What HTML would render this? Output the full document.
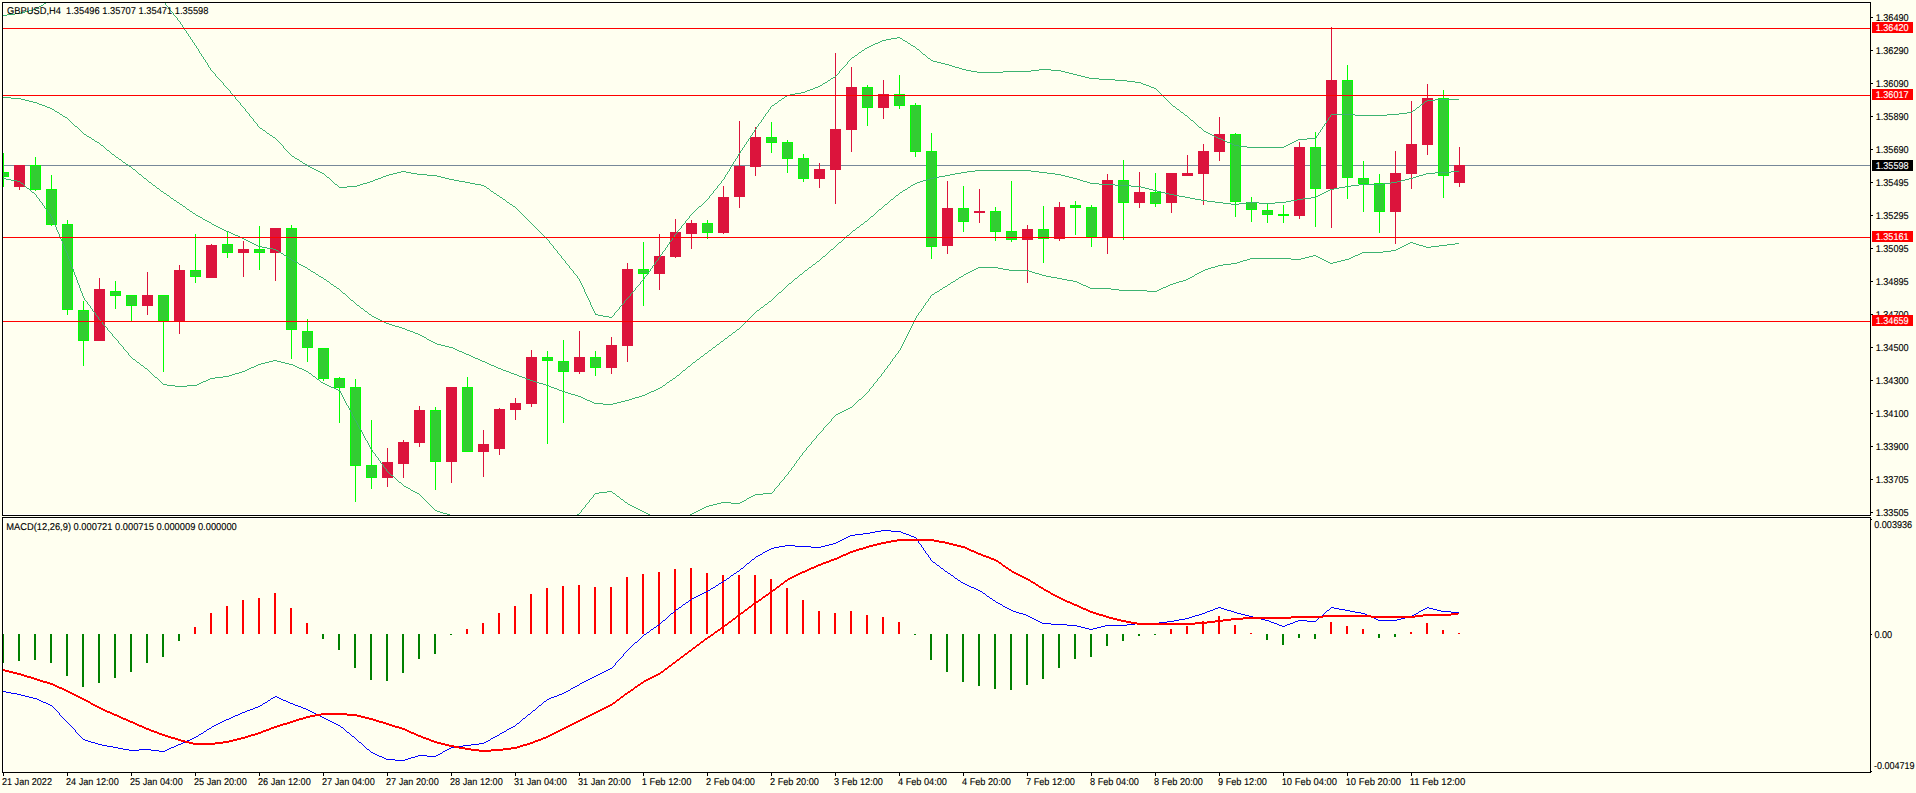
<!DOCTYPE html><html><head><meta charset="utf-8"><title>GBPUSD,H4</title><style>
html,body{margin:0;padding:0;background:#fffff0;width:1916px;height:793px;overflow:hidden}
svg{position:absolute;left:0;top:0;display:block}
text{font-family:"Liberation Sans",sans-serif;font-size:9.9px;stroke-width:0.12px;paint-order:stroke;text-rendering:geometricPrecision}
</style></head><body>
<svg width="1916" height="793" viewBox="0 0 1916 793">
<g shape-rendering="crispEdges">
<path fill="#fff" d="M3 3h1867v1h-1867zM3 3h1v511h-1zM3 514h1867v1h-1867zM3 518h1867v1h-1867zM3 518h1v254h-1z"/>
<rect x="3" y="165" width="1867" height="1" fill="#778899"/>
<path fill="#dc143c" d="M19 165h1v25h-1zM14 165h11v22h-11zM99 278h1v63h-1zM94 289h11v52h-11zM147 272h1v43h-1zM142 295h11v11h-11zM179 265h1v69h-1zM174 270h11v51h-11zM211 244h1v34h-1zM206 245h11v33h-11zM243 241h1v36h-1zM238 249h11v4h-11zM275 228h1v53h-1zM270 228h11v25h-11zM387 448h1v39h-1zM382 462h11v16h-11zM403 440h1v38h-1zM398 442h11v22h-11zM419 406h1v41h-1zM414 410h11v33h-11zM451 387h1v96h-1zM446 387h11v75h-11zM483 430h1v47h-1zM478 444h11v8h-11zM499 408h1v47h-1zM494 409h11v40h-11zM515 398h1v22h-1zM510 403h11v7h-11zM531 350h1v57h-1zM526 357h11v47h-11zM579 331h1v43h-1zM574 357h11v15h-11zM611 337h1v37h-1zM606 345h11v23h-11zM627 263h1v99h-1zM622 269h11v77h-11zM659 234h1v56h-1zM654 256h11v18h-11zM675 219h1v39h-1zM670 232h11v25h-11zM691 220h1v29h-1zM686 223h11v11h-11zM723 186h1v48h-1zM718 197h11v36h-11zM739 121h1v87h-1zM734 166h11v31h-11zM755 127h1v49h-1zM750 137h11v30h-11zM819 163h1v25h-1zM814 169h11v10h-11zM835 53h1v151h-1zM830 129h11v41h-11zM851 67h1v85h-1zM846 87h11v43h-11zM883 80h1v39h-1zM878 94h11v14h-11zM947 181h1v73h-1zM942 208h11v38h-11zM979 189h1v34h-1zM974 211h11v2h-11zM1027 225h1v58h-1zM1022 229h11v11h-11zM1059 202h1v39h-1zM1054 207h11v32h-11zM1107 174h1v80h-1zM1102 180h11v57h-11zM1139 172h1v36h-1zM1134 192h11v11h-11zM1171 173h1v40h-1zM1166 173h11v30h-11zM1187 155h1v21h-1zM1182 173h11v3h-11zM1203 144h1v61h-1zM1198 151h11v23h-11zM1219 117h1v44h-1zM1214 134h11v18h-11zM1299 142h1v77h-1zM1294 147h11v69h-11zM1331 27h1v201h-1zM1326 80h11v109h-11zM1395 151h1v93h-1zM1390 173h11v39h-11zM1411 101h1v88h-1zM1406 144h11v30h-11zM1427 84h1v71h-1zM1422 98h11v47h-11zM1459 147h1v40h-1zM1454 165h11v18h-11z"/>
<path fill="#00ff00" d="M3 153h1v34h-1zM3 172h6v5h-6zM35 157h1v34h-1zM30 165h11v25h-11zM51 175h1v51h-1zM46 189h11v36h-11zM67 220h1v95h-1zM62 224h11v86h-11zM83 301h1v65h-1zM78 310h11v31h-11zM115 281h1v28h-1zM110 291h11v5h-11zM131 295h1v26h-1zM126 295h11v11h-11zM163 295h1v77h-1zM158 295h11v26h-11zM195 234h1v49h-1zM190 270h11v7h-11zM227 232h1v26h-1zM222 244h11v9h-11zM259 226h1v44h-1zM254 249h11v4h-11zM291 225h1v134h-1zM286 228h11v102h-11zM307 319h1v43h-1zM302 331h11v17h-11zM323 348h1v33h-1zM318 348h11v31h-11zM339 377h1v46h-1zM334 378h11v10h-11zM355 379h1v123h-1zM350 387h11v79h-11zM371 420h1v69h-1zM366 465h11v13h-11zM435 407h1v83h-1zM430 410h11v52h-11zM467 377h1v75h-1zM462 387h11v65h-11zM547 351h1v93h-1zM542 357h11v4h-11zM563 340h1v83h-1zM558 361h11v11h-11zM595 351h1v25h-1zM590 357h11v11h-11zM643 242h1v64h-1zM638 269h11v5h-11zM707 220h1v19h-1zM702 223h11v10h-11zM771 122h1v31h-1zM766 137h11v6h-11zM787 140h1v33h-1zM782 142h11v17h-11zM803 154h1v28h-1zM798 158h11v21h-11zM867 85h1v41h-1zM862 87h11v21h-11zM899 75h1v34h-1zM894 94h11v12h-11zM915 103h1v54h-1zM910 105h11v47h-11zM931 133h1v126h-1zM926 151h11v96h-11zM963 186h1v46h-1zM958 208h11v14h-11zM995 207h1v34h-1zM990 211h11v21h-11zM1011 181h1v61h-1zM1006 231h11v9h-11zM1043 206h1v57h-1zM1038 229h11v10h-11zM1075 201h1v34h-1zM1070 205h11v3h-11zM1091 205h1v42h-1zM1086 207h11v30h-11zM1123 160h1v80h-1zM1118 180h11v23h-11zM1155 173h1v34h-1zM1150 192h11v12h-11zM1235 133h1v84h-1zM1230 134h11v68h-11zM1251 197h1v25h-1zM1246 202h11v8h-11zM1267 204h1v19h-1zM1262 210h11v5h-11zM1283 205h1v18h-1zM1278 214h11v2h-11zM1315 132h1v95h-1zM1310 147h11v42h-11zM1347 65h1v134h-1zM1342 80h11v98h-11zM1363 161h1v51h-1zM1358 178h11v6h-11zM1379 174h1v59h-1zM1374 183h11v29h-11zM1443 90h1v108h-1zM1438 98h11v78h-11z"/>
<path fill="#32cd32" d="M3 173h5v3h-5zM31 166h9v23h-9zM47 190h9v34h-9zM63 225h9v84h-9zM79 311h9v29h-9zM111 292h9v3h-9zM127 296h9v9h-9zM159 296h9v24h-9zM191 271h9v5h-9zM223 245h9v7h-9zM255 250h9v2h-9zM287 229h9v100h-9zM303 332h9v15h-9zM319 349h9v29h-9zM335 379h9v8h-9zM351 388h9v77h-9zM367 466h9v11h-9zM431 411h9v50h-9zM463 388h9v63h-9zM543 358h9v2h-9zM559 362h9v9h-9zM591 358h9v9h-9zM639 270h9v3h-9zM703 224h9v8h-9zM767 138h9v4h-9zM783 143h9v15h-9zM799 159h9v19h-9zM863 88h9v19h-9zM895 95h9v10h-9zM911 106h9v45h-9zM927 152h9v94h-9zM959 209h9v12h-9zM991 212h9v19h-9zM1007 232h9v7h-9zM1039 230h9v8h-9zM1071 206h9v1h-9zM1087 208h9v28h-9zM1119 181h9v21h-9zM1151 193h9v10h-9zM1231 135h9v66h-9zM1247 203h9v6h-9zM1263 211h9v3h-9zM1311 148h9v40h-9zM1343 81h9v96h-9zM1359 179h9v4h-9zM1375 184h9v27h-9zM1439 99h9v76h-9z"/>
<path fill="#3cb371" d="M3 15h4v1h-4zM3 97h8v1h-8zM3 178h3v1h-3zM6 179h5v1h-5zM7 14h8v1h-8zM11 98h10v1h-10zM11 180h6v1h-6zM15 13h6v1h-6zM17 181h3v1h-3zM21 12h4v1h-4zM21 99h4v1h-4zM21 183h2v1h-2zM25 11h4v1h-4zM25 100h4v1h-4zM27 188h2v1h-2zM29 10h4v1h-4zM29 101h4v1h-4zM32 192h2v1h-2zM33 9h3v1h-3zM33 102h4v1h-4zM36 8h2v1h-2zM37 103h2v1h-2zM39 6h2v1h-2zM39 104h3v1h-3zM41 5h2v1h-2zM42 105h3v1h-3zM44 3h2v1h-2zM45 106h2v1h-2zM47 107h3v1h-3zM50 108h2v1h-2zM52 109h2v1h-2zM55 111h2v1h-2zM57 112h2v1h-2zM60 114h2v1h-2zM63 116h2v1h-2zM65 117h2v1h-2zM75 126h2v1h-2zM84 134h2v1h-2zM87 136h2v1h-2zM89 137h2v1h-2zM92 139h2v1h-2zM95 141h2v1h-2zM97 142h2v1h-2zM101 145h2v1h-2zM107 150h2v1h-2zM112 154h2v1h-2zM116 157h2v1h-2zM119 159h2v1h-2zM123 162h2v1h-2zM126 164h2v1h-2zM129 166h2v1h-2zM133 169h2v1h-2zM133 359h2v1h-2zM137 362h2v1h-2zM139 174h2v1h-2zM141 365h2v1h-2zM144 178h2v1h-2zM145 368h2v1h-2zM149 182h2v1h-2zM153 185h2v1h-2zM155 377h2v1h-2zM157 188h2v1h-2zM161 191h2v1h-2zM163 384h4v1h-4zM164 193h2v1h-2zM167 195h2v1h-2zM167 385h8v1h-8zM171 198h2v1h-2zM174 200h2v1h-2zM175 386h12v1h-12zM177 202h2v1h-2zM180 204h2v1h-2zM183 206h2v1h-2zM187 209h2v1h-2zM187 385h10v1h-10zM190 211h2v1h-2zM193 213h2v1h-2zM196 215h2v1h-2zM197 384h2v1h-2zM198 216h2v1h-2zM199 383h2v1h-2zM200 217h2v1h-2zM201 382h2v1h-2zM203 219h2v1h-2zM203 381h3v1h-3zM205 220h2v1h-2zM206 380h2v1h-2zM207 221h2v1h-2zM208 379h2v1h-2zM209 222h2v1h-2zM210 378h5v1h-5zM212 224h2v1h-2zM214 225h2v1h-2zM215 377h8v1h-8zM216 226h2v1h-2zM218 227h2v1h-2zM220 228h2v1h-2zM222 229h2v1h-2zM223 376h6v1h-6zM224 230h2v1h-2zM226 231h3v1h-3zM229 232h2v1h-2zM229 375h3v1h-3zM231 233h2v1h-2zM232 374h3v1h-3zM233 234h2v1h-2zM235 235h3v1h-3zM235 373h4v1h-4zM238 236h2v1h-2zM239 372h3v1h-3zM240 237h2v1h-2zM242 238h2v1h-2zM242 371h3v1h-3zM244 239h2v1h-2zM245 370h2v1h-2zM246 240h2v1h-2zM247 369h2v1h-2zM248 241h2v1h-2zM249 368h2v1h-2zM250 242h2v1h-2zM251 367h3v1h-3zM252 243h2v1h-2zM254 244h2v1h-2zM254 366h2v1h-2zM256 245h2v1h-2zM256 365h2v1h-2zM258 246h4v1h-4zM258 364h3v1h-3zM260 128h2v1h-2zM261 363h4v1h-4zM262 247h5v1h-5zM263 130h2v1h-2zM265 362h4v1h-4zM267 133h2v1h-2zM267 248h6v1h-6zM269 361h4v1h-4zM270 135h2v1h-2zM273 137h2v1h-2zM273 249h3v1h-3zM273 360h4v1h-4zM276 250h2v1h-2zM277 361h4v1h-4zM279 252h2v1h-2zM281 253h2v1h-2zM281 362h4v1h-4zM284 255h2v1h-2zM285 363h4v1h-4zM287 257h2v1h-2zM289 258h2v1h-2zM289 364h4v1h-4zM292 156h2v1h-2zM292 260h2v1h-2zM293 365h2v1h-2zM294 261h2v1h-2zM295 158h2v1h-2zM295 366h2v1h-2zM296 262h2v1h-2zM297 159h2v1h-2zM297 367h2v1h-2zM299 264h2v1h-2zM299 368h3v1h-3zM300 161h2v1h-2zM301 265h2v1h-2zM302 369h2v1h-2zM303 163h2v1h-2zM303 266h2v1h-2zM304 370h2v1h-2zM305 164h2v1h-2zM305 267h2v1h-2zM306 371h2v1h-2zM308 166h2v1h-2zM308 269h2v1h-2zM309 373h2v1h-2zM310 167h2v1h-2zM311 271h2v1h-2zM312 168h2v1h-2zM313 272h2v1h-2zM313 376h2v1h-2zM314 169h2v1h-2zM316 170h2v1h-2zM316 274h2v1h-2zM317 379h2v1h-2zM318 171h2v1h-2zM319 276h2v1h-2zM320 172h2v1h-2zM321 277h2v1h-2zM321 382h2v1h-2zM322 173h2v1h-2zM323 383h2v1h-2zM324 279h2v1h-2zM325 384h2v1h-2zM327 177h2v1h-2zM327 281h2v1h-2zM327 385h2v1h-2zM329 386h2v1h-2zM331 284h2v1h-2zM331 387h3v1h-3zM334 286h2v1h-2zM334 388h2v1h-2zM335 184h2v1h-2zM336 389h2v1h-2zM337 288h2v1h-2zM338 390h2v1h-2zM339 187h8v1h-8zM343 293h2v1h-2zM347 186h10v1h-10zM351 300h2v1h-2zM357 185h3v1h-3zM357 305h2v1h-2zM360 184h3v1h-3zM361 308h2v1h-2zM363 183h4v1h-4zM365 311h2v1h-2zM367 182h3v1h-3zM369 314h2v1h-2zM370 181h3v1h-3zM372 316h2v1h-2zM373 180h2v1h-2zM374 317h2v1h-2zM375 179h3v1h-3zM376 318h2v1h-2zM378 178h3v1h-3zM378 319h2v1h-2zM380 320h2v1h-2zM381 177h2v1h-2zM382 321h2v1h-2zM383 176h3v1h-3zM384 322h2v1h-2zM386 175h3v1h-3zM386 323h3v1h-3zM389 174h4v1h-4zM389 324h3v1h-3zM391 475h2v1h-2zM392 325h3v1h-3zM393 173h4v1h-4zM395 326h4v1h-4zM397 172h4v1h-4zM399 327h3v1h-3zM399 482h2v1h-2zM401 171h5v1h-5zM402 328h3v1h-3zM404 486h2v1h-2zM405 329h2v1h-2zM406 172h5v1h-5zM406 487h2v1h-2zM407 330h3v1h-3zM408 488h2v1h-2zM410 331h3v1h-3zM411 173h6v1h-6zM411 490h2v1h-2zM413 332h2v1h-2zM413 491h2v1h-2zM415 333h3v1h-3zM415 492h2v1h-2zM417 174h10v1h-10zM417 493h2v1h-2zM418 334h2v1h-2zM420 335h2v1h-2zM422 336h2v1h-2zM424 337h2v1h-2zM427 175h10v1h-10zM427 339h2v1h-2zM429 340h2v1h-2zM431 341h2v1h-2zM433 342h2v1h-2zM435 343h2v1h-2zM435 510h2v1h-2zM437 176h4v1h-4zM437 344h4v1h-4zM437 511h3v1h-3zM440 512h3v1h-3zM441 177h4v1h-4zM441 345h4v1h-4zM443 513h4v1h-4zM445 178h4v1h-4zM445 346h4v1h-4zM447 514h3v1h-3zM449 179h5v1h-5zM449 347h4v1h-4zM453 348h2v1h-2zM454 180h5v1h-5zM455 349h2v1h-2zM457 350h2v1h-2zM459 181h6v1h-6zM459 351h3v1h-3zM462 352h2v1h-2zM464 353h2v1h-2zM465 182h5v1h-5zM466 354h3v1h-3zM469 355h2v1h-2zM470 183h5v1h-5zM471 356h2v1h-2zM473 357h2v1h-2zM475 184h6v1h-6zM475 358h3v1h-3zM478 359h2v1h-2zM480 360h2v1h-2zM481 185h3v1h-3zM482 361h3v1h-3zM484 186h2v1h-2zM485 362h2v1h-2zM487 188h2v1h-2zM487 363h2v1h-2zM489 364h2v1h-2zM491 191h2v1h-2zM491 365h3v1h-3zM494 193h2v1h-2zM494 366h2v1h-2zM496 367h2v1h-2zM497 195h2v1h-2zM498 368h3v1h-3zM500 197h2v1h-2zM501 369h2v1h-2zM503 199h2v1h-2zM503 370h3v1h-3zM506 371h3v1h-3zM507 202h2v1h-2zM509 372h2v1h-2zM510 204h2v1h-2zM511 373h3v1h-3zM513 206h2v1h-2zM514 374h3v1h-3zM517 375h2v1h-2zM519 376h3v1h-3zM522 377h3v1h-3zM525 378h2v1h-2zM527 379h3v1h-3zM530 380h3v1h-3zM533 381h3v1h-3zM536 382h3v1h-3zM539 383h4v1h-4zM543 384h3v1h-3zM546 385h3v1h-3zM549 386h2v1h-2zM551 387h3v1h-3zM554 388h3v1h-3zM557 389h2v1h-2zM559 390h3v1h-3zM562 391h3v1h-3zM565 392h3v1h-3zM568 393h3v1h-3zM571 394h4v1h-4zM575 395h3v1h-3zM577 514h2v1h-2zM578 396h3v1h-3zM581 397h2v1h-2zM583 398h2v1h-2zM585 399h2v1h-2zM587 400h3v1h-3zM590 401h2v1h-2zM592 402h2v1h-2zM594 403h9v1h-9zM595 314h3v1h-3zM595 493h4v1h-4zM598 315h5v1h-5zM599 492h8v1h-8zM603 316h6v1h-6zM603 404h10v1h-10zM607 491h5v1h-5zM609 317h3v1h-3zM613 403h4v1h-4zM613 493h2v1h-2zM617 402h4v1h-4zM617 496h2v1h-2zM621 401h4v1h-4zM621 499h2v1h-2zM625 400h4v1h-4zM625 502h2v1h-2zM628 504h2v1h-2zM629 399h3v1h-3zM630 505h2v1h-2zM632 398h3v1h-3zM632 506h2v1h-2zM634 507h2v1h-2zM635 397h4v1h-4zM636 508h2v1h-2zM638 509h2v1h-2zM639 396h3v1h-3zM640 510h2v1h-2zM642 395h3v1h-3zM642 511h2v1h-2zM644 512h2v1h-2zM645 394h2v1h-2zM646 513h2v1h-2zM647 393h2v1h-2zM648 514h2v1h-2zM649 392h2v1h-2zM651 391h3v1h-3zM654 390h2v1h-2zM656 389h2v1h-2zM658 388h2v1h-2zM660 387h2v1h-2zM663 385h2v1h-2zM667 382h2v1h-2zM670 380h2v1h-2zM673 378h2v1h-2zM677 375h2v1h-2zM683 370h2v1h-2zM688 366h2v1h-2zM690 514h2v1h-2zM692 513h2v1h-2zM693 362h2v1h-2zM694 512h2v1h-2zM696 511h2v1h-2zM697 359h2v1h-2zM698 510h2v1h-2zM699 206h2v1h-2zM700 509h2v1h-2zM701 356h2v1h-2zM702 508h2v1h-2zM704 507h2v1h-2zM705 353h2v1h-2zM706 506h3v1h-3zM709 350h2v1h-2zM709 505h4v1h-4zM713 347h2v1h-2zM713 504h4v1h-4zM717 344h2v1h-2zM717 503h4v1h-4zM721 341h2v1h-2zM721 502h10v1h-10zM725 338h2v1h-2zM729 335h2v1h-2zM731 503h9v1h-9zM733 332h2v1h-2zM737 329h2v1h-2zM740 502h2v1h-2zM742 501h2v1h-2zM744 500h2v1h-2zM747 498h2v1h-2zM749 497h2v1h-2zM751 496h2v1h-2zM753 495h2v1h-2zM755 494h8v1h-8zM757 310h2v1h-2zM761 307h2v1h-2zM763 493h9v1h-9zM765 304h2v1h-2zM769 301h2v1h-2zM772 105h2v1h-2zM775 103h2v1h-2zM779 100h2v1h-2zM779 292h2v1h-2zM782 98h2v1h-2zM785 96h2v1h-2zM787 95h3v1h-3zM789 283h2v1h-2zM790 94h5v1h-5zM795 93h6v1h-6zM795 278h2v1h-2zM800 274h2v1h-2zM801 92h4v1h-4zM805 91h2v1h-2zM805 270h2v1h-2zM807 90h3v1h-3zM809 267h2v1h-2zM810 89h3v1h-3zM813 88h2v1h-2zM813 264h2v1h-2zM815 87h3v1h-3zM817 261h2v1h-2zM818 86h2v1h-2zM820 85h2v1h-2zM823 83h2v1h-2zM823 256h2v1h-2zM825 82h2v1h-2zM828 80h2v1h-2zM831 78h2v1h-2zM831 249h2v1h-2zM833 77h2v1h-2zM836 414h2v1h-2zM838 413h2v1h-2zM839 242h2v1h-2zM840 412h2v1h-2zM842 411h2v1h-2zM844 410h2v1h-2zM846 409h2v1h-2zM847 235h2v1h-2zM848 408h2v1h-2zM850 407h2v1h-2zM852 57h2v1h-2zM853 230h2v1h-2zM855 55h2v1h-2zM857 227h2v1h-2zM859 52h2v1h-2zM859 399h2v1h-2zM861 224h2v1h-2zM862 50h2v1h-2zM865 48h2v1h-2zM865 221h2v1h-2zM867 47h2v1h-2zM869 46h2v1h-2zM871 45h2v1h-2zM871 216h2v1h-2zM873 44h2v1h-2zM875 43h3v1h-3zM878 42h2v1h-2zM879 209h2v1h-2zM880 41h2v1h-2zM882 40h4v1h-4zM885 204h2v1h-2zM886 39h5v1h-5zM891 38h6v1h-6zM891 199h2v1h-2zM896 195h2v1h-2zM897 37h3v1h-3zM900 38h2v1h-2zM900 192h2v1h-2zM903 40h2v1h-2zM903 190h2v1h-2zM905 41h2v1h-2zM905 189h2v1h-2zM908 43h2v1h-2zM908 187h2v1h-2zM911 45h2v1h-2zM911 185h2v1h-2zM913 46h2v1h-2zM913 184h2v1h-2zM915 183h2v1h-2zM917 49h2v1h-2zM917 182h3v1h-3zM920 181h3v1h-3zM923 54h2v1h-2zM923 180h4v1h-4zM927 179h3v1h-3zM928 58h2v1h-2zM930 178h4v1h-4zM931 60h2v1h-2zM932 294h2v1h-2zM933 61h4v1h-4zM934 177h5v1h-5zM935 292h2v1h-2zM937 62h4v1h-4zM937 291h2v1h-2zM939 176h6v1h-6zM940 289h2v1h-2zM941 63h4v1h-4zM943 287h2v1h-2zM945 64h4v1h-4zM945 175h5v1h-5zM945 286h2v1h-2zM948 284h2v1h-2zM949 65h3v1h-3zM950 174h5v1h-5zM951 282h2v1h-2zM952 66h3v1h-3zM953 281h2v1h-2zM955 67h4v1h-4zM955 173h6v1h-6zM956 279h2v1h-2zM959 68h3v1h-3zM959 277h2v1h-2zM961 172h6v1h-6zM961 276h2v1h-2zM962 69h4v1h-4zM964 274h2v1h-2zM966 70h5v1h-5zM966 273h2v1h-2zM967 171h8v1h-8zM968 272h2v1h-2zM970 271h2v1h-2zM971 71h6v1h-6zM972 270h2v1h-2zM974 269h2v1h-2zM975 170h56v1h-56zM976 268h2v1h-2zM977 72h26v1h-26zM978 267h20v1h-20zM998 268h5v1h-5zM1003 71h28v1h-28zM1003 269h6v1h-6zM1009 270h20v1h-20zM1029 271h3v1h-3zM1031 70h8v1h-8zM1031 171h8v1h-8zM1032 272h3v1h-3zM1035 273h4v1h-4zM1039 69h12v1h-12zM1039 172h8v1h-8zM1039 274h3v1h-3zM1042 275h4v1h-4zM1046 276h5v1h-5zM1047 173h8v1h-8zM1051 70h10v1h-10zM1051 277h6v1h-6zM1055 174h6v1h-6zM1057 278h5v1h-5zM1061 71h4v1h-4zM1061 175h4v1h-4zM1062 279h5v1h-5zM1065 72h4v1h-4zM1065 176h4v1h-4zM1067 280h6v1h-6zM1069 73h4v1h-4zM1069 177h4v1h-4zM1073 74h4v1h-4zM1073 178h4v1h-4zM1073 281h4v1h-4zM1077 75h4v1h-4zM1077 179h3v1h-3zM1077 282h2v1h-2zM1079 283h2v1h-2zM1080 180h3v1h-3zM1081 76h4v1h-4zM1081 284h2v1h-2zM1083 181h4v1h-4zM1083 285h3v1h-3zM1085 77h4v1h-4zM1086 286h2v1h-2zM1087 182h3v1h-3zM1088 287h2v1h-2zM1089 78h10v1h-10zM1090 183h9v1h-9zM1090 288h21v1h-21zM1099 79h16v1h-16zM1099 184h16v1h-16zM1111 289h8v1h-8zM1115 80h12v1h-12zM1115 185h16v1h-16zM1119 290h28v1h-28zM1127 81h8v1h-8zM1131 186h10v1h-10zM1135 82h6v1h-6zM1141 83h2v1h-2zM1141 187h4v1h-4zM1143 84h3v1h-3zM1145 188h4v1h-4zM1146 85h3v1h-3zM1147 291h10v1h-10zM1149 86h2v1h-2zM1149 189h4v1h-4zM1151 87h3v1h-3zM1153 190h4v1h-4zM1154 88h2v1h-2zM1157 191h4v1h-4zM1157 290h2v1h-2zM1159 289h2v1h-2zM1161 192h4v1h-4zM1161 288h2v1h-2zM1163 287h3v1h-3zM1165 193h4v1h-4zM1166 286h2v1h-2zM1168 285h2v1h-2zM1169 194h5v1h-5zM1170 284h3v1h-3zM1173 106h2v1h-2zM1173 283h3v1h-3zM1174 195h5v1h-5zM1176 282h3v1h-3zM1177 109h2v1h-2zM1179 196h6v1h-6zM1179 281h4v1h-4zM1181 112h2v1h-2zM1183 280h3v1h-3zM1185 115h2v1h-2zM1185 197h5v1h-5zM1186 279h2v1h-2zM1188 278h2v1h-2zM1190 198h5v1h-5zM1190 277h2v1h-2zM1191 120h2v1h-2zM1192 276h2v1h-2zM1195 199h6v1h-6zM1195 274h2v1h-2zM1197 273h2v1h-2zM1199 127h2v1h-2zM1199 272h2v1h-2zM1201 200h6v1h-6zM1201 271h2v1h-2zM1203 270h2v1h-2zM1204 131h2v1h-2zM1205 269h3v1h-3zM1206 132h2v1h-2zM1207 201h8v1h-8zM1208 133h2v1h-2zM1208 268h3v1h-3zM1210 134h2v1h-2zM1211 267h4v1h-4zM1212 135h2v1h-2zM1214 136h2v1h-2zM1215 202h8v1h-8zM1215 266h3v1h-3zM1216 137h2v1h-2zM1218 138h3v1h-3zM1218 265h5v1h-5zM1221 139h2v1h-2zM1223 140h2v1h-2zM1223 203h8v1h-8zM1223 264h8v1h-8zM1225 141h2v1h-2zM1227 142h3v1h-3zM1230 143h2v1h-2zM1231 204h8v1h-8zM1231 263h6v1h-6zM1232 144h2v1h-2zM1234 145h5v1h-5zM1237 262h3v1h-3zM1239 146h8v1h-8zM1239 203h8v1h-8zM1240 261h3v1h-3zM1243 260h4v1h-4zM1247 147h37v1h-37zM1247 202h12v1h-12zM1247 259h3v1h-3zM1250 258h41v1h-41zM1259 203h16v1h-16zM1275 202h11v1h-11zM1284 146h2v1h-2zM1286 145h2v1h-2zM1286 201h5v1h-5zM1288 144h2v1h-2zM1290 143h2v1h-2zM1291 200h6v1h-6zM1291 259h10v1h-10zM1292 142h2v1h-2zM1294 141h2v1h-2zM1296 140h2v1h-2zM1297 199h6v1h-6zM1298 139h9v1h-9zM1301 258h4v1h-4zM1303 198h8v1h-8zM1305 257h4v1h-4zM1307 138h9v1h-9zM1309 256h4v1h-4zM1311 197h5v1h-5zM1313 255h3v1h-3zM1316 196h2v1h-2zM1316 256h2v1h-2zM1318 195h2v1h-2zM1318 257h2v1h-2zM1320 194h2v1h-2zM1320 258h2v1h-2zM1322 193h2v1h-2zM1322 259h2v1h-2zM1324 192h2v1h-2zM1324 260h2v1h-2zM1326 191h2v1h-2zM1326 261h2v1h-2zM1328 190h2v1h-2zM1328 262h2v1h-2zM1330 189h4v1h-4zM1330 263h3v1h-3zM1331 114h24v1h-24zM1333 262h4v1h-4zM1334 188h5v1h-5zM1337 261h4v1h-4zM1339 187h6v1h-6zM1341 260h4v1h-4zM1345 186h6v1h-6zM1345 259h4v1h-4zM1349 258h2v1h-2zM1351 185h8v1h-8zM1351 257h2v1h-2zM1353 256h2v1h-2zM1355 115h32v1h-32zM1355 255h3v1h-3zM1358 254h2v1h-2zM1359 184h24v1h-24zM1360 253h2v1h-2zM1362 252h21v1h-21zM1383 183h8v1h-8zM1383 251h8v1h-8zM1387 114h12v1h-12zM1391 182h6v1h-6zM1391 250h5v1h-5zM1396 249h2v1h-2zM1397 181h4v1h-4zM1398 248h2v1h-2zM1399 113h8v1h-8zM1400 247h2v1h-2zM1401 180h4v1h-4zM1402 246h2v1h-2zM1404 245h2v1h-2zM1405 179h4v1h-4zM1406 244h2v1h-2zM1407 112h5v1h-5zM1408 243h2v1h-2zM1409 178h4v1h-4zM1410 242h3v1h-3zM1413 110h2v1h-2zM1413 177h3v1h-3zM1413 243h3v1h-3zM1416 176h3v1h-3zM1416 244h3v1h-3zM1417 107h2v1h-2zM1419 175h4v1h-4zM1419 245h4v1h-4zM1421 104h2v1h-2zM1423 174h3v1h-3zM1423 246h3v1h-3zM1425 101h2v1h-2zM1426 173h9v1h-9zM1426 247h5v1h-5zM1427 100h8v1h-8zM1431 246h8v1h-8zM1435 99h24v1h-24zM1435 172h16v1h-16zM1439 245h8v1h-8zM1447 244h8v1h-8zM1451 171h8v1h-8zM1455 243h4v1h-4zM20 182h1v1h-1zM23 184h1v1h-1zM24 185h1v1h-1zM25 186h1v1h-1zM26 187h1v1h-1zM29 189h1v1h-1zM30 190h1v1h-1zM31 191h1v1h-1zM34 193h1v1h-1zM35 194h1v1h-1zM36 195h1v2h-1zM37 197h1v1h-1zM38 7h1v1h-1zM38 198h1v1h-1zM39 199h1v2h-1zM40 201h1v1h-1zM41 202h1v1h-1zM42 203h1v2h-1zM43 4h1v1h-1zM43 205h1v1h-1zM44 206h1v2h-1zM45 208h1v1h-1zM46 209h1v1h-1zM47 210h1v2h-1zM48 212h1v1h-1zM49 213h1v1h-1zM50 214h1v2h-1zM51 216h1v2h-1zM52 218h1v2h-1zM53 220h1v2h-1zM54 110h1v1h-1zM54 222h1v3h-1zM55 225h1v2h-1zM56 227h1v3h-1zM57 230h1v2h-1zM58 232h1v2h-1zM59 113h1v1h-1zM59 234h1v3h-1zM60 237h1v2h-1zM61 239h1v2h-1zM62 115h1v1h-1zM62 241h1v3h-1zM63 244h1v2h-1zM64 246h1v3h-1zM65 249h1v2h-1zM66 251h1v2h-1zM67 118h1v1h-1zM67 253h1v3h-1zM68 119h1v1h-1zM68 256h1v3h-1zM69 120h1v1h-1zM69 259h1v2h-1zM70 121h1v1h-1zM70 261h1v3h-1zM71 122h1v1h-1zM71 264h1v3h-1zM72 123h1v1h-1zM72 267h1v2h-1zM73 124h1v1h-1zM73 269h1v3h-1zM74 125h1v1h-1zM74 272h1v3h-1zM75 275h1v2h-1zM76 277h1v3h-1zM77 127h1v1h-1zM77 280h1v3h-1zM78 128h1v1h-1zM78 283h1v2h-1zM79 129h1v1h-1zM79 285h1v3h-1zM80 130h1v1h-1zM80 288h1v3h-1zM81 131h1v1h-1zM81 291h1v2h-1zM82 132h1v1h-1zM82 293h1v3h-1zM83 133h1v1h-1zM83 296h1v2h-1zM84 298h1v2h-1zM85 300h1v1h-1zM86 135h1v1h-1zM86 301h1v1h-1zM87 302h1v2h-1zM88 304h1v1h-1zM89 305h1v1h-1zM90 306h1v2h-1zM91 138h1v1h-1zM91 308h1v1h-1zM92 309h1v2h-1zM93 311h1v1h-1zM94 140h1v1h-1zM94 312h1v1h-1zM95 313h1v2h-1zM96 315h1v1h-1zM97 316h1v1h-1zM98 317h1v2h-1zM99 143h1v1h-1zM99 319h1v1h-1zM100 144h1v1h-1zM100 320h1v1h-1zM101 321h1v1h-1zM102 322h1v2h-1zM103 146h1v1h-1zM103 324h1v1h-1zM104 147h1v1h-1zM104 325h1v1h-1zM105 148h1v1h-1zM105 326h1v1h-1zM106 149h1v1h-1zM106 327h1v1h-1zM107 328h1v2h-1zM108 330h1v1h-1zM109 151h1v1h-1zM109 331h1v1h-1zM110 152h1v1h-1zM110 332h1v1h-1zM111 153h1v1h-1zM111 333h1v1h-1zM112 334h1v2h-1zM113 336h1v1h-1zM114 155h1v1h-1zM114 337h1v1h-1zM115 156h1v1h-1zM115 338h1v1h-1zM116 339h1v1h-1zM117 340h1v1h-1zM118 158h1v1h-1zM118 341h1v2h-1zM119 343h1v1h-1zM120 344h1v1h-1zM121 160h1v1h-1zM121 345h1v1h-1zM122 161h1v1h-1zM122 346h1v1h-1zM123 347h1v2h-1zM124 349h1v1h-1zM125 163h1v1h-1zM125 350h1v1h-1zM126 351h1v1h-1zM127 352h1v1h-1zM128 165h1v1h-1zM128 353h1v2h-1zM129 355h1v1h-1zM130 356h1v1h-1zM131 167h1v1h-1zM131 357h1v1h-1zM132 168h1v1h-1zM132 358h1v1h-1zM135 170h1v1h-1zM135 360h1v1h-1zM136 171h1v1h-1zM136 361h1v1h-1zM137 172h1v1h-1zM138 173h1v1h-1zM139 363h1v1h-1zM140 364h1v1h-1zM141 175h1v1h-1zM142 176h1v1h-1zM143 177h1v1h-1zM143 366h1v1h-1zM144 367h1v1h-1zM146 179h1v1h-1zM147 180h1v1h-1zM147 369h1v1h-1zM148 181h1v1h-1zM148 370h1v1h-1zM149 371h1v1h-1zM150 372h1v1h-1zM151 183h1v1h-1zM151 373h1v1h-1zM152 184h1v1h-1zM152 374h1v1h-1zM153 375h1v1h-1zM154 376h1v1h-1zM155 186h1v1h-1zM156 187h1v1h-1zM157 378h1v1h-1zM158 379h1v1h-1zM159 189h1v1h-1zM159 380h1v1h-1zM160 190h1v1h-1zM160 381h1v1h-1zM161 382h1v1h-1zM162 383h1v1h-1zM163 192h1v1h-1zM165 3h1v2h-1zM166 5h1v1h-1zM166 194h1v1h-1zM167 6h1v1h-1zM168 7h1v1h-1zM169 8h1v2h-1zM169 196h1v1h-1zM170 10h1v1h-1zM170 197h1v1h-1zM171 11h1v1h-1zM172 12h1v1h-1zM173 13h1v2h-1zM173 199h1v1h-1zM174 15h1v1h-1zM175 16h1v1h-1zM176 17h1v1h-1zM176 201h1v1h-1zM177 18h1v2h-1zM178 20h1v1h-1zM179 21h1v1h-1zM179 203h1v1h-1zM180 22h1v2h-1zM181 24h1v1h-1zM182 25h1v2h-1zM182 205h1v1h-1zM183 27h1v1h-1zM184 28h1v2h-1zM185 30h1v1h-1zM185 207h1v1h-1zM186 31h1v2h-1zM186 208h1v1h-1zM187 33h1v1h-1zM188 34h1v2h-1zM189 36h1v1h-1zM189 210h1v1h-1zM190 37h1v2h-1zM191 39h1v1h-1zM192 40h1v2h-1zM192 212h1v1h-1zM193 42h1v1h-1zM194 43h1v2h-1zM195 45h1v1h-1zM195 214h1v1h-1zM196 46h1v2h-1zM197 48h1v1h-1zM198 49h1v2h-1zM199 51h1v2h-1zM200 53h1v1h-1zM201 54h1v2h-1zM202 56h1v1h-1zM202 218h1v1h-1zM203 57h1v2h-1zM204 59h1v1h-1zM205 60h1v2h-1zM206 62h1v1h-1zM207 63h1v2h-1zM208 65h1v2h-1zM209 67h1v1h-1zM210 68h1v2h-1zM211 70h1v1h-1zM211 223h1v1h-1zM212 71h1v1h-1zM213 72h1v1h-1zM214 73h1v1h-1zM215 74h1v2h-1zM216 76h1v1h-1zM217 77h1v1h-1zM218 78h1v1h-1zM219 79h1v1h-1zM220 80h1v1h-1zM221 81h1v1h-1zM222 82h1v1h-1zM223 83h1v2h-1zM224 85h1v1h-1zM225 86h1v1h-1zM226 87h1v1h-1zM227 88h1v1h-1zM228 89h1v1h-1zM229 90h1v1h-1zM230 91h1v2h-1zM231 93h1v1h-1zM232 94h1v1h-1zM233 95h1v1h-1zM234 96h1v1h-1zM235 97h1v2h-1zM236 99h1v1h-1zM237 100h1v1h-1zM238 101h1v1h-1zM239 102h1v1h-1zM240 103h1v2h-1zM241 105h1v1h-1zM242 106h1v1h-1zM243 107h1v1h-1zM244 108h1v1h-1zM245 109h1v2h-1zM246 111h1v1h-1zM247 112h1v1h-1zM248 113h1v1h-1zM249 114h1v2h-1zM250 116h1v1h-1zM251 117h1v1h-1zM252 118h1v1h-1zM253 119h1v2h-1zM254 121h1v1h-1zM255 122h1v1h-1zM256 123h1v1h-1zM257 124h1v2h-1zM258 126h1v1h-1zM259 127h1v1h-1zM262 129h1v1h-1zM265 131h1v1h-1zM266 132h1v1h-1zM269 134h1v1h-1zM272 136h1v1h-1zM275 138h1v1h-1zM276 139h1v1h-1zM277 140h1v1h-1zM278 141h1v1h-1zM278 251h1v1h-1zM279 142h1v1h-1zM280 143h1v1h-1zM281 144h1v1h-1zM282 145h1v1h-1zM283 146h1v2h-1zM283 254h1v1h-1zM284 148h1v1h-1zM285 149h1v1h-1zM286 150h1v1h-1zM286 256h1v1h-1zM287 151h1v1h-1zM288 152h1v1h-1zM289 153h1v1h-1zM290 154h1v1h-1zM291 155h1v1h-1zM291 259h1v1h-1zM294 157h1v1h-1zM298 263h1v1h-1zM299 160h1v1h-1zM302 162h1v1h-1zM307 165h1v1h-1zM307 268h1v1h-1zM308 372h1v1h-1zM310 270h1v1h-1zM311 374h1v1h-1zM312 375h1v1h-1zM315 273h1v1h-1zM315 377h1v1h-1zM316 378h1v1h-1zM318 275h1v1h-1zM319 380h1v1h-1zM320 381h1v1h-1zM323 278h1v1h-1zM324 174h1v1h-1zM325 175h1v1h-1zM326 176h1v1h-1zM326 280h1v1h-1zM329 178h1v1h-1zM329 282h1v1h-1zM330 179h1v1h-1zM330 283h1v1h-1zM331 180h1v1h-1zM332 181h1v1h-1zM333 182h1v1h-1zM333 285h1v1h-1zM334 183h1v1h-1zM336 287h1v1h-1zM337 185h1v1h-1zM338 186h1v1h-1zM339 289h1v1h-1zM340 290h1v1h-1zM340 391h1v2h-1zM341 291h1v1h-1zM341 393h1v2h-1zM342 292h1v1h-1zM342 395h1v2h-1zM343 397h1v2h-1zM344 399h1v2h-1zM345 294h1v1h-1zM345 401h1v2h-1zM346 295h1v1h-1zM346 403h1v2h-1zM347 296h1v1h-1zM347 405h1v1h-1zM348 297h1v1h-1zM348 406h1v2h-1zM349 298h1v1h-1zM349 408h1v2h-1zM350 299h1v1h-1zM350 410h1v2h-1zM351 412h1v2h-1zM352 414h1v2h-1zM353 301h1v1h-1zM353 416h1v2h-1zM354 302h1v1h-1zM354 418h1v2h-1zM355 303h1v1h-1zM355 420h1v1h-1zM356 304h1v1h-1zM356 421h1v2h-1zM357 423h1v2h-1zM358 425h1v2h-1zM359 306h1v1h-1zM359 427h1v2h-1zM360 307h1v1h-1zM360 429h1v1h-1zM361 430h1v2h-1zM362 432h1v2h-1zM363 309h1v1h-1zM363 434h1v2h-1zM364 310h1v1h-1zM364 436h1v2h-1zM365 438h1v2h-1zM366 440h1v1h-1zM367 312h1v1h-1zM367 441h1v2h-1zM368 313h1v1h-1zM368 443h1v2h-1zM369 445h1v2h-1zM370 447h1v2h-1zM371 315h1v1h-1zM371 449h1v1h-1zM372 450h1v2h-1zM373 452h1v1h-1zM374 453h1v1h-1zM375 454h1v2h-1zM376 456h1v1h-1zM377 457h1v1h-1zM378 458h1v2h-1zM379 460h1v1h-1zM380 461h1v2h-1zM381 463h1v1h-1zM382 464h1v1h-1zM383 465h1v2h-1zM384 467h1v1h-1zM385 468h1v1h-1zM386 469h1v2h-1zM387 471h1v1h-1zM388 472h1v1h-1zM389 473h1v1h-1zM390 474h1v1h-1zM393 476h1v1h-1zM394 477h1v1h-1zM395 478h1v1h-1zM396 479h1v1h-1zM397 480h1v1h-1zM398 481h1v1h-1zM401 483h1v1h-1zM402 484h1v1h-1zM403 485h1v1h-1zM410 489h1v1h-1zM419 494h1v1h-1zM420 495h1v1h-1zM421 496h1v1h-1zM422 497h1v1h-1zM423 498h1v1h-1zM424 499h1v1h-1zM425 500h1v1h-1zM426 338h1v1h-1zM426 501h1v1h-1zM427 502h1v1h-1zM428 503h1v1h-1zM429 504h1v1h-1zM430 505h1v1h-1zM431 506h1v1h-1zM432 507h1v1h-1zM433 508h1v1h-1zM434 509h1v1h-1zM486 187h1v1h-1zM489 189h1v1h-1zM490 190h1v1h-1zM493 192h1v1h-1zM496 194h1v1h-1zM499 196h1v1h-1zM502 198h1v1h-1zM505 200h1v1h-1zM506 201h1v1h-1zM509 203h1v1h-1zM512 205h1v1h-1zM515 207h1v1h-1zM516 208h1v1h-1zM517 209h1v1h-1zM518 210h1v1h-1zM519 211h1v1h-1zM520 212h1v1h-1zM521 213h1v1h-1zM522 214h1v1h-1zM523 215h1v1h-1zM524 216h1v1h-1zM525 217h1v1h-1zM526 218h1v1h-1zM527 219h1v1h-1zM528 220h1v1h-1zM529 221h1v1h-1zM530 222h1v1h-1zM531 223h1v1h-1zM532 224h1v1h-1zM533 225h1v1h-1zM534 226h1v1h-1zM535 227h1v1h-1zM536 228h1v1h-1zM537 229h1v1h-1zM538 230h1v1h-1zM539 231h1v1h-1zM540 232h1v1h-1zM541 233h1v1h-1zM542 234h1v1h-1zM543 235h1v1h-1zM544 236h1v1h-1zM545 237h1v1h-1zM546 238h1v1h-1zM547 239h1v1h-1zM548 240h1v1h-1zM549 241h1v2h-1zM550 243h1v1h-1zM551 244h1v1h-1zM552 245h1v1h-1zM553 246h1v2h-1zM554 248h1v1h-1zM555 249h1v1h-1zM556 250h1v1h-1zM557 251h1v2h-1zM558 253h1v1h-1zM559 254h1v1h-1zM560 255h1v1h-1zM561 256h1v2h-1zM562 258h1v1h-1zM563 259h1v1h-1zM564 260h1v1h-1zM565 261h1v2h-1zM566 263h1v1h-1zM567 264h1v1h-1zM568 265h1v1h-1zM569 266h1v2h-1zM570 268h1v1h-1zM571 269h1v1h-1zM572 270h1v1h-1zM573 271h1v2h-1zM574 273h1v1h-1zM575 274h1v1h-1zM576 275h1v1h-1zM577 276h1v2h-1zM578 278h1v1h-1zM579 279h1v2h-1zM579 513h1v1h-1zM580 281h1v2h-1zM580 512h1v1h-1zM581 283h1v2h-1zM581 510h1v2h-1zM582 285h1v2h-1zM582 509h1v1h-1zM583 287h1v2h-1zM583 508h1v1h-1zM584 289h1v3h-1zM584 507h1v1h-1zM585 292h1v2h-1zM585 505h1v2h-1zM586 294h1v2h-1zM586 504h1v1h-1zM587 296h1v2h-1zM587 503h1v1h-1zM588 298h1v2h-1zM588 502h1v1h-1zM589 300h1v2h-1zM589 500h1v2h-1zM590 302h1v3h-1zM590 499h1v1h-1zM591 305h1v2h-1zM591 498h1v1h-1zM592 307h1v2h-1zM592 497h1v1h-1zM593 309h1v2h-1zM593 495h1v2h-1zM594 311h1v2h-1zM594 494h1v1h-1zM595 313h1v1h-1zM612 316h1v1h-1zM612 492h1v1h-1zM613 315h1v1h-1zM614 313h1v2h-1zM615 312h1v1h-1zM615 494h1v1h-1zM616 311h1v1h-1zM616 495h1v1h-1zM617 310h1v1h-1zM618 309h1v1h-1zM619 307h1v2h-1zM619 497h1v1h-1zM620 306h1v1h-1zM620 498h1v1h-1zM621 305h1v1h-1zM622 304h1v1h-1zM623 303h1v1h-1zM623 500h1v1h-1zM624 301h1v2h-1zM624 501h1v1h-1zM625 300h1v1h-1zM626 299h1v1h-1zM627 298h1v1h-1zM627 503h1v1h-1zM628 297h1v1h-1zM629 296h1v1h-1zM630 294h1v2h-1zM631 293h1v1h-1zM632 292h1v1h-1zM633 291h1v1h-1zM634 290h1v1h-1zM635 288h1v2h-1zM636 287h1v1h-1zM637 286h1v1h-1zM638 285h1v1h-1zM639 284h1v1h-1zM640 282h1v2h-1zM641 281h1v1h-1zM642 280h1v1h-1zM643 279h1v1h-1zM644 277h1v2h-1zM645 276h1v1h-1zM646 275h1v1h-1zM647 273h1v2h-1zM648 272h1v1h-1zM649 271h1v1h-1zM650 269h1v2h-1zM651 268h1v1h-1zM652 266h1v2h-1zM653 265h1v1h-1zM654 264h1v1h-1zM655 262h1v2h-1zM656 261h1v1h-1zM657 260h1v1h-1zM658 258h1v2h-1zM659 257h1v1h-1zM660 255h1v2h-1zM661 254h1v1h-1zM662 252h1v2h-1zM662 386h1v1h-1zM663 251h1v1h-1zM664 250h1v1h-1zM665 248h1v2h-1zM665 384h1v1h-1zM666 247h1v1h-1zM666 383h1v1h-1zM667 245h1v2h-1zM668 244h1v1h-1zM669 242h1v2h-1zM669 381h1v1h-1zM670 241h1v1h-1zM671 240h1v1h-1zM672 238h1v2h-1zM672 379h1v1h-1zM673 237h1v1h-1zM674 235h1v2h-1zM675 234h1v1h-1zM675 377h1v1h-1zM676 233h1v1h-1zM676 376h1v1h-1zM677 231h1v2h-1zM678 230h1v1h-1zM679 229h1v1h-1zM679 374h1v1h-1zM680 228h1v1h-1zM680 373h1v1h-1zM681 226h1v2h-1zM681 372h1v1h-1zM682 225h1v1h-1zM682 371h1v1h-1zM683 224h1v1h-1zM684 223h1v1h-1zM685 221h1v2h-1zM685 369h1v1h-1zM686 220h1v1h-1zM686 368h1v1h-1zM687 219h1v1h-1zM687 367h1v1h-1zM688 218h1v1h-1zM689 216h1v2h-1zM690 215h1v1h-1zM690 365h1v1h-1zM691 214h1v1h-1zM691 364h1v1h-1zM692 213h1v1h-1zM692 363h1v1h-1zM693 212h1v1h-1zM694 211h1v1h-1zM695 210h1v1h-1zM695 361h1v1h-1zM696 209h1v1h-1zM696 360h1v1h-1zM697 208h1v1h-1zM698 207h1v1h-1zM699 358h1v1h-1zM700 357h1v1h-1zM701 205h1v1h-1zM702 204h1v1h-1zM703 203h1v1h-1zM703 355h1v1h-1zM704 202h1v1h-1zM704 354h1v1h-1zM705 201h1v1h-1zM706 200h1v1h-1zM707 199h1v1h-1zM707 352h1v1h-1zM708 198h1v1h-1zM708 351h1v1h-1zM709 196h1v2h-1zM710 195h1v1h-1zM711 194h1v1h-1zM711 349h1v1h-1zM712 193h1v1h-1zM712 348h1v1h-1zM713 191h1v2h-1zM714 190h1v1h-1zM715 189h1v1h-1zM715 346h1v1h-1zM716 188h1v1h-1zM716 345h1v1h-1zM717 186h1v2h-1zM718 185h1v1h-1zM719 184h1v1h-1zM719 343h1v1h-1zM720 183h1v1h-1zM720 342h1v1h-1zM721 181h1v2h-1zM722 180h1v1h-1zM723 179h1v1h-1zM723 340h1v1h-1zM724 177h1v2h-1zM724 339h1v1h-1zM725 175h1v2h-1zM726 174h1v1h-1zM727 172h1v2h-1zM727 337h1v1h-1zM728 171h1v1h-1zM728 336h1v1h-1zM729 169h1v2h-1zM730 167h1v2h-1zM731 166h1v1h-1zM731 334h1v1h-1zM732 164h1v2h-1zM732 333h1v1h-1zM733 162h1v2h-1zM734 161h1v1h-1zM735 159h1v2h-1zM735 331h1v1h-1zM736 158h1v1h-1zM736 330h1v1h-1zM737 156h1v2h-1zM738 154h1v2h-1zM739 153h1v1h-1zM739 328h1v1h-1zM740 151h1v2h-1zM740 327h1v1h-1zM741 150h1v1h-1zM741 326h1v1h-1zM742 148h1v2h-1zM742 325h1v1h-1zM743 147h1v1h-1zM743 324h1v1h-1zM744 145h1v2h-1zM744 323h1v1h-1zM745 144h1v1h-1zM745 322h1v1h-1zM746 142h1v2h-1zM746 321h1v1h-1zM746 499h1v1h-1zM747 141h1v1h-1zM747 320h1v1h-1zM748 139h1v2h-1zM748 319h1v1h-1zM749 138h1v1h-1zM749 318h1v1h-1zM750 136h1v2h-1zM750 317h1v1h-1zM751 135h1v1h-1zM751 316h1v1h-1zM752 133h1v2h-1zM752 315h1v1h-1zM753 132h1v1h-1zM753 314h1v1h-1zM754 130h1v2h-1zM754 313h1v1h-1zM755 129h1v1h-1zM755 312h1v1h-1zM756 127h1v2h-1zM756 311h1v1h-1zM757 126h1v1h-1zM758 124h1v2h-1zM759 123h1v1h-1zM759 309h1v1h-1zM760 122h1v1h-1zM760 308h1v1h-1zM761 120h1v2h-1zM762 119h1v1h-1zM763 117h1v2h-1zM763 306h1v1h-1zM764 116h1v1h-1zM764 305h1v1h-1zM765 114h1v2h-1zM766 113h1v1h-1zM767 112h1v1h-1zM767 303h1v1h-1zM768 110h1v2h-1zM768 302h1v1h-1zM769 109h1v1h-1zM770 107h1v2h-1zM771 106h1v1h-1zM771 300h1v1h-1zM772 299h1v1h-1zM772 492h1v1h-1zM773 298h1v1h-1zM773 491h1v1h-1zM774 104h1v1h-1zM774 297h1v1h-1zM774 489h1v2h-1zM775 296h1v1h-1zM775 488h1v1h-1zM776 295h1v1h-1zM776 487h1v1h-1zM777 102h1v1h-1zM777 294h1v1h-1zM777 486h1v1h-1zM778 101h1v1h-1zM778 293h1v1h-1zM778 485h1v1h-1zM779 483h1v2h-1zM780 482h1v1h-1zM781 99h1v1h-1zM781 291h1v1h-1zM781 481h1v1h-1zM782 290h1v1h-1zM782 480h1v1h-1zM783 289h1v1h-1zM783 479h1v1h-1zM784 97h1v1h-1zM784 288h1v1h-1zM784 477h1v2h-1zM785 287h1v1h-1zM785 476h1v1h-1zM786 286h1v1h-1zM786 475h1v1h-1zM787 285h1v1h-1zM787 474h1v1h-1zM788 284h1v1h-1zM788 472h1v2h-1zM789 471h1v1h-1zM790 470h1v1h-1zM791 282h1v1h-1zM791 468h1v2h-1zM792 281h1v1h-1zM792 467h1v1h-1zM793 280h1v1h-1zM793 466h1v1h-1zM794 279h1v1h-1zM794 464h1v2h-1zM795 463h1v1h-1zM796 461h1v2h-1zM797 277h1v1h-1zM797 460h1v1h-1zM798 276h1v1h-1zM798 459h1v1h-1zM799 275h1v1h-1zM799 457h1v2h-1zM800 456h1v1h-1zM801 455h1v1h-1zM802 273h1v1h-1zM802 453h1v2h-1zM803 272h1v1h-1zM803 452h1v1h-1zM804 271h1v1h-1zM804 451h1v1h-1zM805 450h1v1h-1zM806 448h1v2h-1zM807 269h1v1h-1zM807 447h1v1h-1zM808 268h1v1h-1zM808 446h1v1h-1zM809 445h1v1h-1zM810 444h1v1h-1zM811 266h1v1h-1zM811 442h1v2h-1zM812 265h1v1h-1zM812 441h1v1h-1zM813 440h1v1h-1zM814 439h1v1h-1zM815 263h1v1h-1zM815 438h1v1h-1zM816 262h1v1h-1zM816 436h1v2h-1zM817 435h1v1h-1zM818 434h1v1h-1zM819 260h1v1h-1zM819 433h1v1h-1zM820 259h1v1h-1zM820 432h1v1h-1zM821 258h1v1h-1zM821 431h1v1h-1zM822 84h1v1h-1zM822 257h1v1h-1zM822 430h1v1h-1zM823 428h1v2h-1zM824 427h1v1h-1zM825 255h1v1h-1zM825 426h1v1h-1zM826 254h1v1h-1zM826 425h1v1h-1zM827 81h1v1h-1zM827 253h1v1h-1zM827 424h1v1h-1zM828 252h1v1h-1zM828 423h1v1h-1zM829 251h1v1h-1zM829 422h1v1h-1zM830 79h1v1h-1zM830 250h1v1h-1zM830 421h1v1h-1zM831 419h1v2h-1zM832 418h1v1h-1zM833 248h1v1h-1zM833 417h1v1h-1zM834 247h1v1h-1zM834 416h1v1h-1zM835 76h1v1h-1zM835 246h1v1h-1zM835 415h1v1h-1zM836 75h1v1h-1zM836 245h1v1h-1zM837 74h1v1h-1zM837 244h1v1h-1zM838 73h1v1h-1zM838 243h1v1h-1zM839 71h1v2h-1zM840 70h1v1h-1zM841 69h1v1h-1zM841 241h1v1h-1zM842 68h1v1h-1zM842 240h1v1h-1zM843 67h1v1h-1zM843 239h1v1h-1zM844 66h1v1h-1zM844 238h1v1h-1zM845 65h1v1h-1zM845 237h1v1h-1zM846 64h1v1h-1zM846 236h1v1h-1zM847 62h1v2h-1zM848 61h1v1h-1zM849 60h1v1h-1zM849 234h1v1h-1zM850 59h1v1h-1zM850 233h1v1h-1zM851 58h1v1h-1zM851 232h1v1h-1zM852 231h1v1h-1zM852 406h1v1h-1zM853 405h1v1h-1zM854 56h1v1h-1zM854 404h1v1h-1zM855 229h1v1h-1zM855 403h1v1h-1zM856 228h1v1h-1zM856 402h1v1h-1zM857 54h1v1h-1zM857 401h1v1h-1zM858 53h1v1h-1zM858 400h1v1h-1zM859 226h1v1h-1zM860 225h1v1h-1zM861 51h1v1h-1zM861 398h1v1h-1zM862 397h1v1h-1zM863 223h1v1h-1zM863 396h1v1h-1zM864 49h1v1h-1zM864 222h1v1h-1zM864 395h1v1h-1zM865 394h1v1h-1zM866 393h1v1h-1zM867 220h1v1h-1zM867 392h1v1h-1zM868 219h1v1h-1zM868 391h1v1h-1zM869 218h1v1h-1zM869 389h1v2h-1zM870 217h1v1h-1zM870 388h1v1h-1zM871 387h1v1h-1zM872 386h1v1h-1zM873 215h1v1h-1zM873 384h1v2h-1zM874 214h1v1h-1zM874 383h1v1h-1zM875 213h1v1h-1zM875 382h1v1h-1zM876 212h1v1h-1zM876 381h1v1h-1zM877 211h1v1h-1zM877 379h1v2h-1zM878 210h1v1h-1zM878 378h1v1h-1zM879 377h1v1h-1zM880 376h1v1h-1zM881 208h1v1h-1zM881 374h1v2h-1zM882 207h1v1h-1zM882 373h1v1h-1zM883 206h1v1h-1zM883 372h1v1h-1zM884 205h1v1h-1zM884 370h1v2h-1zM885 369h1v1h-1zM886 368h1v1h-1zM887 203h1v1h-1zM887 366h1v2h-1zM888 202h1v1h-1zM888 365h1v1h-1zM889 201h1v1h-1zM889 364h1v1h-1zM890 200h1v1h-1zM890 362h1v2h-1zM891 361h1v1h-1zM892 359h1v2h-1zM893 198h1v1h-1zM893 358h1v1h-1zM894 197h1v1h-1zM894 357h1v1h-1zM895 196h1v1h-1zM895 355h1v2h-1zM896 354h1v1h-1zM897 353h1v1h-1zM898 194h1v1h-1zM898 351h1v2h-1zM899 193h1v1h-1zM899 350h1v1h-1zM900 348h1v2h-1zM901 346h1v2h-1zM902 39h1v1h-1zM902 191h1v1h-1zM902 344h1v2h-1zM903 342h1v2h-1zM904 340h1v2h-1zM905 338h1v2h-1zM906 336h1v2h-1zM907 42h1v1h-1zM907 188h1v1h-1zM907 334h1v2h-1zM908 332h1v2h-1zM909 330h1v2h-1zM910 44h1v1h-1zM910 186h1v1h-1zM910 328h1v2h-1zM911 326h1v2h-1zM912 324h1v2h-1zM913 322h1v2h-1zM914 320h1v2h-1zM915 47h1v1h-1zM915 318h1v2h-1zM916 48h1v1h-1zM916 316h1v2h-1zM917 315h1v1h-1zM918 313h1v2h-1zM919 50h1v1h-1zM919 312h1v1h-1zM920 51h1v1h-1zM920 311h1v1h-1zM921 52h1v1h-1zM921 309h1v2h-1zM922 53h1v1h-1zM922 308h1v1h-1zM923 306h1v2h-1zM924 305h1v1h-1zM925 55h1v1h-1zM925 303h1v2h-1zM926 56h1v1h-1zM926 302h1v1h-1zM927 57h1v1h-1zM927 301h1v1h-1zM928 299h1v2h-1zM929 298h1v1h-1zM930 59h1v1h-1zM930 296h1v2h-1zM931 295h1v1h-1zM934 293h1v1h-1zM939 290h1v1h-1zM942 288h1v1h-1zM947 285h1v1h-1zM950 283h1v1h-1zM955 280h1v1h-1zM958 278h1v1h-1zM963 275h1v1h-1zM1156 89h1v1h-1zM1157 90h1v1h-1zM1158 91h1v1h-1zM1159 92h1v1h-1zM1160 93h1v1h-1zM1161 94h1v1h-1zM1162 95h1v1h-1zM1163 96h1v1h-1zM1164 97h1v1h-1zM1165 98h1v1h-1zM1166 99h1v1h-1zM1167 100h1v1h-1zM1168 101h1v1h-1zM1169 102h1v1h-1zM1170 103h1v1h-1zM1171 104h1v1h-1zM1172 105h1v1h-1zM1175 107h1v1h-1zM1176 108h1v1h-1zM1179 110h1v1h-1zM1180 111h1v1h-1zM1183 113h1v1h-1zM1184 114h1v1h-1zM1187 116h1v1h-1zM1188 117h1v1h-1zM1189 118h1v1h-1zM1190 119h1v1h-1zM1193 121h1v1h-1zM1194 122h1v1h-1zM1194 275h1v1h-1zM1195 123h1v1h-1zM1196 124h1v1h-1zM1197 125h1v1h-1zM1198 126h1v1h-1zM1201 128h1v1h-1zM1202 129h1v1h-1zM1203 130h1v1h-1zM1316 136h1v2h-1zM1317 135h1v1h-1zM1318 133h1v2h-1zM1319 132h1v1h-1zM1320 130h1v2h-1zM1321 129h1v1h-1zM1322 127h1v2h-1zM1323 126h1v1h-1zM1324 124h1v2h-1zM1325 123h1v1h-1zM1326 121h1v2h-1zM1327 120h1v1h-1zM1328 118h1v2h-1zM1329 117h1v1h-1zM1330 115h1v2h-1zM1412 111h1v1h-1zM1415 109h1v1h-1zM1416 108h1v1h-1zM1419 106h1v1h-1zM1420 105h1v1h-1zM1423 103h1v1h-1zM1424 102h1v1h-1z"/>
<path fill="#ff0000" d="M3 28h1867v1h-1867zM3 95h1867v1h-1867zM3 237h1867v1h-1867zM3 321h1867v1h-1867z"/>
<path fill="#008000" d="M3 634h1v29h-1zM18 634h2v27h-2zM34 634h2v26h-2zM50 634h2v29h-2zM66 634h2v42h-2zM82 634h2v53h-2zM98 634h2v49h-2zM114 634h2v44h-2zM130 634h2v38h-2zM146 634h2v29h-2zM162 634h2v23h-2zM178 634h2v7h-2zM322 634h2v5h-2zM338 634h2v16h-2zM354 634h2v34h-2zM370 634h2v46h-2zM386 634h2v47h-2zM402 634h2v39h-2zM418 634h2v25h-2zM434 634h2v20h-2zM450 634h2v1h-2zM914 634h2v1h-2zM930 634h2v26h-2zM946 634h2v38h-2zM962 634h2v48h-2zM978 634h2v52h-2zM994 634h2v55h-2zM1010 634h2v56h-2zM1026 634h2v51h-2zM1042 634h2v45h-2zM1058 634h2v34h-2zM1074 634h2v25h-2zM1090 634h2v23h-2zM1106 634h2v12h-2zM1122 634h2v7h-2zM1138 634h2v2h-2zM1154 634h2v1h-2zM1266 634h2v6h-2zM1282 634h2v11h-2zM1298 634h2v4h-2zM1314 634h2v5h-2zM1378 634h2v4h-2zM1394 634h2v3h-2z"/>
<path fill="#ff0000" d="M194 627h2v7h-2zM210 613h2v21h-2zM226 606h2v28h-2zM242 600h2v34h-2zM258 598h2v36h-2zM274 593h2v41h-2zM290 608h2v26h-2zM306 623h2v11h-2zM466 629h2v5h-2zM482 623h2v11h-2zM498 613h2v21h-2zM514 606h2v28h-2zM530 594h2v40h-2zM546 588h2v46h-2zM562 586h2v48h-2zM578 585h2v49h-2zM594 587h2v47h-2zM610 587h2v47h-2zM626 577h2v57h-2zM642 574h2v60h-2zM658 572h2v62h-2zM674 569h2v65h-2zM690 568h2v66h-2zM706 573h2v61h-2zM722 575h2v59h-2zM738 575h2v59h-2zM754 575h2v59h-2zM770 579h2v55h-2zM786 588h2v46h-2zM802 600h2v34h-2zM818 611h2v23h-2zM834 613h2v21h-2zM850 611h2v23h-2zM866 615h2v19h-2zM882 617h2v17h-2zM898 622h2v12h-2zM1170 629h2v5h-2zM1186 626h2v8h-2zM1202 621h2v13h-2zM1218 616h2v18h-2zM1234 625h2v9h-2zM1250 633h2v1h-2zM1330 622h2v12h-2zM1346 626h2v8h-2zM1362 629h2v5h-2zM1410 632h2v2h-2zM1426 623h2v11h-2zM1442 630h2v4h-2zM1458 633h2v1h-2z"/>
<path fill="#0000ff" d="M3 691h3v1h-3zM6 692h5v1h-5zM11 693h6v1h-6zM17 694h4v1h-4zM21 695h4v1h-4zM25 696h4v1h-4zM29 697h4v1h-4zM33 698h4v1h-4zM37 699h2v1h-2zM39 700h2v1h-2zM41 701h2v1h-2zM43 702h3v1h-3zM46 703h2v1h-2zM48 704h2v1h-2zM50 705h2v1h-2zM83 739h2v1h-2zM85 740h3v1h-3zM88 741h3v1h-3zM91 742h4v1h-4zM95 743h3v1h-3zM98 744h4v1h-4zM102 745h5v1h-5zM107 746h6v1h-6zM113 747h5v1h-5zM118 748h5v1h-5zM123 749h6v1h-6zM129 750h10v1h-10zM139 749h12v1h-12zM151 750h8v1h-8zM159 751h6v1h-6zM165 750h2v1h-2zM167 749h2v1h-2zM169 748h2v1h-2zM171 747h3v1h-3zM174 746h2v1h-2zM176 745h2v1h-2zM178 744h3v1h-3zM181 743h2v1h-2zM183 742h2v1h-2zM185 741h2v1h-2zM187 740h3v1h-3zM190 739h2v1h-2zM192 738h2v1h-2zM194 737h2v1h-2zM196 736h2v1h-2zM199 734h2v1h-2zM201 733h2v1h-2zM204 731h2v1h-2zM207 729h2v1h-2zM209 728h2v1h-2zM212 726h2v1h-2zM214 725h2v1h-2zM216 724h2v1h-2zM218 723h2v1h-2zM220 722h2v1h-2zM222 721h2v1h-2zM224 720h2v1h-2zM226 719h3v1h-3zM229 718h2v1h-2zM231 717h2v1h-2zM233 716h2v1h-2zM235 715h3v1h-3zM238 714h2v1h-2zM240 713h2v1h-2zM242 712h3v1h-3zM245 711h2v1h-2zM247 710h3v1h-3zM250 709h3v1h-3zM253 708h2v1h-2zM255 707h3v1h-3zM258 706h2v1h-2zM260 705h2v1h-2zM263 703h2v1h-2zM265 702h2v1h-2zM268 700h2v1h-2zM271 698h2v1h-2zM273 697h2v1h-2zM275 696h2v1h-2zM277 697h2v1h-2zM279 698h2v1h-2zM281 699h2v1h-2zM283 700h3v1h-3zM286 701h2v1h-2zM288 702h2v1h-2zM290 703h3v1h-3zM293 704h2v1h-2zM295 705h3v1h-3zM298 706h3v1h-3zM301 707h2v1h-2zM303 708h3v1h-3zM306 709h2v1h-2zM308 710h2v1h-2zM310 711h2v1h-2zM312 712h2v1h-2zM314 713h2v1h-2zM316 714h2v1h-2zM318 715h2v1h-2zM320 716h2v1h-2zM322 717h2v1h-2zM324 718h2v1h-2zM326 719h2v1h-2zM328 720h2v1h-2zM330 721h2v1h-2zM332 722h2v1h-2zM334 723h2v1h-2zM336 724h2v1h-2zM338 725h2v1h-2zM341 727h2v1h-2zM347 732h2v1h-2zM352 736h2v1h-2zM359 742h2v1h-2zM367 749h2v1h-2zM371 752h2v1h-2zM373 753h2v1h-2zM375 754h2v1h-2zM377 755h2v1h-2zM379 756h3v1h-3zM382 757h2v1h-2zM384 758h2v1h-2zM386 759h9v1h-9zM395 760h10v1h-10zM405 759h3v1h-3zM408 758h3v1h-3zM411 757h4v1h-4zM415 756h3v1h-3zM418 755h9v1h-9zM427 756h9v1h-9zM436 755h2v1h-2zM438 754h2v1h-2zM440 753h2v1h-2zM443 751h2v1h-2zM445 750h2v1h-2zM447 749h2v1h-2zM449 748h2v1h-2zM451 747h4v1h-4zM455 746h8v1h-8zM463 745h8v1h-8zM471 744h8v1h-8zM479 743h5v1h-5zM484 742h2v1h-2zM486 741h2v1h-2zM488 740h2v1h-2zM491 738h2v1h-2zM493 737h2v1h-2zM495 736h2v1h-2zM497 735h2v1h-2zM500 733h2v1h-2zM502 732h2v1h-2zM504 731h2v1h-2zM507 729h2v1h-2zM509 728h2v1h-2zM511 727h2v1h-2zM513 726h2v1h-2zM517 723h2v1h-2zM523 718h2v1h-2zM528 714h2v1h-2zM533 710h2v1h-2zM539 705h2v1h-2zM544 701h2v1h-2zM547 699h2v1h-2zM549 698h2v1h-2zM551 697h3v1h-3zM554 696h3v1h-3zM557 695h2v1h-2zM559 694h3v1h-3zM562 693h2v1h-2zM564 692h2v1h-2zM566 691h2v1h-2zM568 690h2v1h-2zM571 688h2v1h-2zM573 687h2v1h-2zM575 686h2v1h-2zM577 685h2v1h-2zM580 683h2v1h-2zM582 682h2v1h-2zM584 681h2v1h-2zM586 680h2v1h-2zM588 679h2v1h-2zM590 678h2v1h-2zM592 677h2v1h-2zM594 676h2v1h-2zM596 675h2v1h-2zM598 674h2v1h-2zM600 673h2v1h-2zM602 672h2v1h-2zM604 671h2v1h-2zM606 670h2v1h-2zM608 669h2v1h-2zM610 668h2v1h-2zM635 642h2v1h-2zM644 634h2v1h-2zM647 632h2v1h-2zM651 629h2v1h-2zM654 627h2v1h-2zM657 625h2v1h-2zM663 620h2v1h-2zM671 613h2v1h-2zM676 609h2v1h-2zM679 607h2v1h-2zM683 604h2v1h-2zM686 602h2v1h-2zM689 600h2v1h-2zM692 598h2v1h-2zM694 597h2v1h-2zM696 596h2v1h-2zM698 595h2v1h-2zM700 594h2v1h-2zM702 593h2v1h-2zM704 592h2v1h-2zM706 591h2v1h-2zM708 590h2v1h-2zM711 588h2v1h-2zM713 587h2v1h-2zM716 585h2v1h-2zM719 583h2v1h-2zM721 582h2v1h-2zM724 580h2v1h-2zM727 578h2v1h-2zM731 575h2v1h-2zM734 573h2v1h-2zM737 571h2v1h-2zM741 568h2v1h-2zM747 563h2v1h-2zM752 559h2v1h-2zM756 556h2v1h-2zM758 555h2v1h-2zM760 554h2v1h-2zM763 552h2v1h-2zM765 551h2v1h-2zM767 550h2v1h-2zM769 549h2v1h-2zM771 548h3v1h-3zM774 547h5v1h-5zM779 546h6v1h-6zM785 545h10v1h-10zM795 546h16v1h-16zM811 547h10v1h-10zM821 546h4v1h-4zM825 545h4v1h-4zM829 544h4v1h-4zM833 543h3v1h-3zM836 542h2v1h-2zM838 541h2v1h-2zM840 540h2v1h-2zM842 539h2v1h-2zM844 538h2v1h-2zM846 537h2v1h-2zM848 536h2v1h-2zM850 535h5v1h-5zM855 534h8v1h-8zM863 533h7v1h-7zM870 532h5v1h-5zM875 531h6v1h-6zM881 530h10v1h-10zM891 531h10v1h-10zM901 532h2v1h-2zM903 533h3v1h-3zM906 534h3v1h-3zM909 535h2v1h-2zM911 536h3v1h-3zM914 537h2v1h-2zM933 562h2v1h-2zM937 565h2v1h-2zM941 568h2v1h-2zM945 571h2v1h-2zM948 573h2v1h-2zM951 575h2v1h-2zM955 578h2v1h-2zM958 580h2v1h-2zM961 582h2v1h-2zM963 583h2v1h-2zM965 584h2v1h-2zM967 585h2v1h-2zM969 586h2v1h-2zM971 587h3v1h-3zM974 588h2v1h-2zM976 589h2v1h-2zM978 590h2v1h-2zM980 591h2v1h-2zM983 593h2v1h-2zM987 596h2v1h-2zM990 598h2v1h-2zM993 600h2v1h-2zM996 602h2v1h-2zM998 603h2v1h-2zM1000 604h2v1h-2zM1003 606h2v1h-2zM1005 607h2v1h-2zM1007 608h2v1h-2zM1009 609h2v1h-2zM1011 610h2v1h-2zM1013 611h3v1h-3zM1016 612h3v1h-3zM1019 613h4v1h-4zM1023 614h3v1h-3zM1026 615h2v1h-2zM1028 616h2v1h-2zM1030 617h2v1h-2zM1032 618h2v1h-2zM1034 619h2v1h-2zM1036 620h2v1h-2zM1038 621h2v1h-2zM1040 622h2v1h-2zM1042 623h9v1h-9zM1051 624h16v1h-16zM1067 625h10v1h-10zM1077 626h4v1h-4zM1081 627h4v1h-4zM1085 628h4v1h-4zM1089 629h4v1h-4zM1093 628h4v1h-4zM1097 627h4v1h-4zM1101 626h4v1h-4zM1105 625h22v1h-22zM1127 624h8v1h-8zM1135 623h24v1h-24zM1159 622h8v1h-8zM1167 621h7v1h-7zM1174 620h5v1h-5zM1179 619h6v1h-6zM1185 618h4v1h-4zM1189 617h3v1h-3zM1192 616h3v1h-3zM1195 615h4v1h-4zM1199 614h3v1h-3zM1202 613h3v1h-3zM1205 612h2v1h-2zM1207 611h3v1h-3zM1210 610h3v1h-3zM1213 609h2v1h-2zM1215 608h3v1h-3zM1218 607h3v1h-3zM1221 608h3v1h-3zM1224 609h3v1h-3zM1227 610h4v1h-4zM1231 611h3v1h-3zM1234 612h3v1h-3zM1237 613h4v1h-4zM1241 614h4v1h-4zM1245 615h4v1h-4zM1249 616h4v1h-4zM1253 617h4v1h-4zM1257 618h4v1h-4zM1261 619h4v1h-4zM1265 620h4v1h-4zM1269 621h2v1h-2zM1271 622h3v1h-3zM1274 623h3v1h-3zM1277 624h2v1h-2zM1279 625h3v1h-3zM1282 626h3v1h-3zM1285 625h2v1h-2zM1287 624h3v1h-3zM1290 623h3v1h-3zM1293 622h2v1h-2zM1295 621h3v1h-3zM1298 620h9v1h-9zM1307 621h9v1h-9zM1319 617h2v1h-2zM1327 610h2v1h-2zM1331 607h3v1h-3zM1334 608h5v1h-5zM1339 609h6v1h-6zM1345 610h5v1h-5zM1350 611h5v1h-5zM1355 612h6v1h-6zM1361 613h4v1h-4zM1365 614h2v1h-2zM1367 615h2v1h-2zM1369 616h2v1h-2zM1371 617h3v1h-3zM1374 618h2v1h-2zM1376 619h2v1h-2zM1378 620h19v1h-19zM1397 619h4v1h-4zM1401 618h4v1h-4zM1405 617h4v1h-4zM1409 616h3v1h-3zM1412 615h2v1h-2zM1414 614h2v1h-2zM1416 613h2v1h-2zM1419 611h2v1h-2zM1421 610h2v1h-2zM1423 609h2v1h-2zM1425 608h2v1h-2zM1427 607h2v1h-2zM1429 608h4v1h-4zM1433 609h4v1h-4zM1437 610h4v1h-4zM1441 611h10v1h-10zM1451 612h8v1h-8zM52 706h1v1h-1zM53 707h1v1h-1zM54 708h1v1h-1zM55 709h1v1h-1zM56 710h1v1h-1zM57 711h1v1h-1zM58 712h1v1h-1zM59 713h1v2h-1zM60 715h1v1h-1zM61 716h1v1h-1zM62 717h1v1h-1zM63 718h1v1h-1zM64 719h1v1h-1zM65 720h1v1h-1zM66 721h1v1h-1zM67 722h1v1h-1zM68 723h1v1h-1zM69 724h1v1h-1zM70 725h1v1h-1zM71 726h1v1h-1zM72 727h1v1h-1zM73 728h1v1h-1zM74 729h1v1h-1zM75 730h1v2h-1zM76 732h1v1h-1zM77 733h1v1h-1zM78 734h1v1h-1zM79 735h1v1h-1zM80 736h1v1h-1zM81 737h1v1h-1zM82 738h1v1h-1zM198 735h1v1h-1zM203 732h1v1h-1zM206 730h1v1h-1zM211 727h1v1h-1zM262 704h1v1h-1zM267 701h1v1h-1zM270 699h1v1h-1zM340 726h1v1h-1zM343 728h1v1h-1zM344 729h1v1h-1zM345 730h1v1h-1zM346 731h1v1h-1zM349 733h1v1h-1zM350 734h1v1h-1zM351 735h1v1h-1zM354 737h1v1h-1zM355 738h1v1h-1zM356 739h1v1h-1zM357 740h1v1h-1zM358 741h1v1h-1zM361 743h1v1h-1zM362 744h1v1h-1zM363 745h1v1h-1zM364 746h1v1h-1zM365 747h1v1h-1zM366 748h1v1h-1zM369 750h1v1h-1zM370 751h1v1h-1zM442 752h1v1h-1zM490 739h1v1h-1zM499 734h1v1h-1zM506 730h1v1h-1zM515 725h1v1h-1zM516 724h1v1h-1zM519 722h1v1h-1zM520 721h1v1h-1zM521 720h1v1h-1zM522 719h1v1h-1zM525 717h1v1h-1zM526 716h1v1h-1zM527 715h1v1h-1zM530 713h1v1h-1zM531 712h1v1h-1zM532 711h1v1h-1zM535 709h1v1h-1zM536 708h1v1h-1zM537 707h1v1h-1zM538 706h1v1h-1zM541 704h1v1h-1zM542 703h1v1h-1zM543 702h1v1h-1zM546 700h1v1h-1zM570 689h1v1h-1zM579 684h1v1h-1zM612 667h1v1h-1zM613 666h1v1h-1zM614 665h1v1h-1zM615 663h1v2h-1zM616 662h1v1h-1zM617 661h1v1h-1zM618 660h1v1h-1zM619 659h1v1h-1zM620 658h1v1h-1zM621 657h1v1h-1zM622 656h1v1h-1zM623 654h1v2h-1zM624 653h1v1h-1zM625 652h1v1h-1zM626 651h1v1h-1zM627 650h1v1h-1zM628 649h1v1h-1zM629 648h1v1h-1zM630 647h1v1h-1zM631 646h1v1h-1zM632 645h1v1h-1zM633 644h1v1h-1zM634 643h1v1h-1zM637 641h1v1h-1zM638 640h1v1h-1zM639 639h1v1h-1zM640 638h1v1h-1zM641 637h1v1h-1zM642 636h1v1h-1zM643 635h1v1h-1zM646 633h1v1h-1zM649 631h1v1h-1zM650 630h1v1h-1zM653 628h1v1h-1zM656 626h1v1h-1zM659 624h1v1h-1zM660 623h1v1h-1zM661 622h1v1h-1zM662 621h1v1h-1zM665 619h1v1h-1zM666 618h1v1h-1zM667 617h1v1h-1zM668 616h1v1h-1zM669 615h1v1h-1zM670 614h1v1h-1zM673 612h1v1h-1zM674 611h1v1h-1zM675 610h1v1h-1zM678 608h1v1h-1zM681 606h1v1h-1zM682 605h1v1h-1zM685 603h1v1h-1zM688 601h1v1h-1zM691 599h1v1h-1zM710 589h1v1h-1zM715 586h1v1h-1zM718 584h1v1h-1zM723 581h1v1h-1zM726 579h1v1h-1zM729 577h1v1h-1zM730 576h1v1h-1zM733 574h1v1h-1zM736 572h1v1h-1zM739 570h1v1h-1zM740 569h1v1h-1zM743 567h1v1h-1zM744 566h1v1h-1zM745 565h1v1h-1zM746 564h1v1h-1zM749 562h1v1h-1zM750 561h1v1h-1zM751 560h1v1h-1zM754 558h1v1h-1zM755 557h1v1h-1zM762 553h1v1h-1zM916 538h1v2h-1zM917 540h1v1h-1zM918 541h1v2h-1zM919 543h1v1h-1zM920 544h1v1h-1zM921 545h1v2h-1zM922 547h1v1h-1zM923 548h1v2h-1zM924 550h1v1h-1zM925 551h1v2h-1zM926 553h1v1h-1zM927 554h1v1h-1zM928 555h1v2h-1zM929 557h1v1h-1zM930 558h1v2h-1zM931 560h1v1h-1zM932 561h1v1h-1zM935 563h1v1h-1zM936 564h1v1h-1zM939 566h1v1h-1zM940 567h1v1h-1zM943 569h1v1h-1zM944 570h1v1h-1zM947 572h1v1h-1zM950 574h1v1h-1zM953 576h1v1h-1zM954 577h1v1h-1zM957 579h1v1h-1zM960 581h1v1h-1zM982 592h1v1h-1zM985 594h1v1h-1zM986 595h1v1h-1zM989 597h1v1h-1zM992 599h1v1h-1zM995 601h1v1h-1zM1002 605h1v1h-1zM1316 620h1v1h-1zM1317 619h1v1h-1zM1318 618h1v1h-1zM1321 616h1v1h-1zM1322 615h1v1h-1zM1323 614h1v1h-1zM1324 613h1v1h-1zM1325 612h1v1h-1zM1326 611h1v1h-1zM1329 609h1v1h-1zM1330 608h1v1h-1zM1418 612h1v1h-1z"/>
<path fill="#ff0000" d="M3 669h2v1h-2zM3 670h6v1h-6zM5 671h8v1h-8zM9 672h8v1h-8zM13 673h8v1h-8zM17 674h7v1h-7zM21 675h6v1h-6zM24 676h7v1h-7zM27 677h7v1h-7zM31 678h6v1h-6zM34 679h6v1h-6zM37 680h6v1h-6zM40 681h7v1h-7zM43 682h7v1h-7zM47 683h6v1h-6zM50 684h5v1h-5zM53 685h4v1h-4zM55 686h4v1h-4zM57 687h5v1h-5zM59 688h5v1h-5zM62 689h4v1h-4zM64 690h4v1h-4zM66 691h4v1h-4zM68 692h4v1h-4zM70 693h4v1h-4zM72 694h4v1h-4zM74 695h4v1h-4zM76 696h4v1h-4zM78 697h4v1h-4zM80 698h4v1h-4zM82 699h4v1h-4zM84 700h4v1h-4zM86 701h4v1h-4zM88 702h3v1h-3zM90 703h3v1h-3zM91 704h4v1h-4zM93 705h4v1h-4zM95 706h4v1h-4zM97 707h4v1h-4zM99 708h4v1h-4zM101 709h4v1h-4zM103 710h4v1h-4zM105 711h5v1h-5zM107 712h5v1h-5zM110 713h4v1h-4zM112 714h5v1h-5zM114 715h5v1h-5zM117 716h4v1h-4zM119 717h4v1h-4zM121 718h5v1h-5zM123 719h5v1h-5zM126 720h4v1h-4zM128 721h5v1h-5zM130 722h5v1h-5zM133 723h4v1h-4zM135 724h4v1h-4zM137 725h5v1h-5zM139 726h5v1h-5zM142 727h4v1h-4zM144 728h5v1h-5zM146 729h5v1h-5zM149 730h5v1h-5zM151 731h6v1h-6zM154 732h5v1h-5zM157 733h5v1h-5zM159 734h6v1h-6zM162 735h6v1h-6zM165 736h6v1h-6zM168 737h7v1h-7zM171 738h7v1h-7zM175 739h6v1h-6zM178 740h7v1h-7zM181 741h8v1h-8zM185 742h8v1h-8zM189 743h34v1h-34zM193 744h22v1h-22zM215 742h14v1h-14zM223 741h10v1h-10zM229 740h8v1h-8zM233 739h8v1h-8zM237 738h8v1h-8zM241 737h7v1h-7zM245 736h6v1h-6zM248 735h7v1h-7zM251 734h7v1h-7zM255 733h6v1h-6zM258 732h5v1h-5zM261 731h5v1h-5zM263 730h6v1h-6zM266 729h5v1h-5zM269 728h5v1h-5zM271 727h6v1h-6zM274 726h6v1h-6zM277 725h6v1h-6zM280 724h7v1h-7zM283 723h7v1h-7zM287 722h6v1h-6zM290 721h6v1h-6zM293 720h6v1h-6zM296 719h7v1h-7zM299 718h7v1h-7zM303 717h7v1h-7zM306 716h9v1h-9zM310 715h11v1h-11zM315 714h42v1h-42zM321 713h26v1h-26zM347 715h14v1h-14zM357 716h8v1h-8zM361 717h8v1h-8zM365 718h8v1h-8zM369 719h7v1h-7zM373 720h6v1h-6zM376 721h7v1h-7zM379 722h7v1h-7zM383 723h6v1h-6zM386 724h6v1h-6zM389 725h6v1h-6zM392 726h7v1h-7zM395 727h7v1h-7zM399 728h6v1h-6zM402 729h5v1h-5zM405 730h4v1h-4zM407 731h4v1h-4zM409 732h5v1h-5zM411 733h5v1h-5zM414 734h4v1h-4zM416 735h5v1h-5zM418 736h5v1h-5zM421 737h5v1h-5zM423 738h6v1h-6zM426 739h5v1h-5zM429 740h5v1h-5zM431 741h6v1h-6zM434 742h7v1h-7zM437 743h8v1h-8zM441 744h8v1h-8zM445 745h9v1h-9zM449 746h10v1h-10zM454 747h11v1h-11zM459 748h12v1h-12zM465 749h14v1h-14zM471 750h32v1h-32zM479 751h12v1h-12zM491 749h20v1h-20zM503 748h14v1h-14zM511 747h9v1h-9zM517 746h6v1h-6zM520 745h7v1h-7zM523 744h7v1h-7zM527 743h6v1h-6zM530 742h5v1h-5zM533 741h5v1h-5zM535 740h6v1h-6zM538 739h5v1h-5zM541 738h5v1h-5zM543 737h5v1h-5zM546 736h4v1h-4zM548 735h4v1h-4zM550 734h4v1h-4zM552 733h4v1h-4zM554 732h4v1h-4zM556 731h4v1h-4zM558 730h4v1h-4zM560 729h4v1h-4zM562 728h4v1h-4zM564 727h4v1h-4zM566 726h4v1h-4zM568 725h4v1h-4zM570 724h4v1h-4zM572 723h4v1h-4zM574 722h4v1h-4zM576 721h4v1h-4zM578 720h4v1h-4zM580 719h4v1h-4zM582 718h4v1h-4zM584 717h4v1h-4zM586 716h4v1h-4zM588 715h4v1h-4zM590 714h4v1h-4zM592 713h4v1h-4zM594 712h4v1h-4zM596 711h4v1h-4zM598 710h4v1h-4zM600 709h4v1h-4zM602 708h4v1h-4zM604 707h4v1h-4zM606 706h4v1h-4zM608 705h4v1h-4zM610 704h3v1h-3zM612 703h3v1h-3zM613 702h3v1h-3zM615 701h2v1h-2zM616 700h3v1h-3zM617 699h3v1h-3zM619 698h2v1h-2zM620 697h3v1h-3zM621 696h3v1h-3zM623 695h2v1h-2zM624 694h3v1h-3zM625 693h3v1h-3zM627 692h3v1h-3zM628 691h3v1h-3zM630 690h3v1h-3zM631 689h3v1h-3zM633 688h2v1h-2zM634 687h3v1h-3zM635 686h3v1h-3zM637 685h3v1h-3zM638 684h3v1h-3zM640 683h3v1h-3zM641 682h3v1h-3zM643 681h3v1h-3zM644 680h4v1h-4zM646 679h4v1h-4zM648 678h4v1h-4zM650 677h4v1h-4zM652 676h4v1h-4zM654 675h4v1h-4zM656 674h4v1h-4zM658 673h3v1h-3zM660 672h3v1h-3zM661 671h3v1h-3zM663 670h2v1h-2zM664 669h3v1h-3zM665 668h3v1h-3zM667 667h2v1h-2zM668 666h3v1h-3zM669 665h3v1h-3zM671 664h2v1h-2zM672 663h3v1h-3zM673 662h3v1h-3zM675 661h2v1h-2zM676 660h3v1h-3zM677 659h3v1h-3zM679 658h2v1h-2zM680 657h3v1h-3zM681 656h3v1h-3zM683 655h2v1h-2zM684 654h3v1h-3zM685 653h3v1h-3zM687 652h2v1h-2zM688 651h3v1h-3zM689 650h3v1h-3zM691 649h2v1h-2zM692 648h3v1h-3zM693 647h3v1h-3zM695 646h2v1h-2zM696 645h3v1h-3zM697 644h3v1h-3zM699 643h2v1h-2zM700 642h3v1h-3zM701 641h3v1h-3zM703 640h2v1h-2zM704 639h3v1h-3zM705 638h3v1h-3zM707 637h3v1h-3zM708 636h3v1h-3zM710 635h3v1h-3zM711 634h3v1h-3zM713 633h2v1h-2zM714 632h3v1h-3zM715 631h3v1h-3zM717 630h3v1h-3zM718 629h3v1h-3zM720 628h3v1h-3zM721 627h3v1h-3zM723 626h2v1h-2zM724 625h3v1h-3zM725 624h3v1h-3zM727 623h2v1h-2zM728 622h3v1h-3zM729 621h3v1h-3zM731 620h2v1h-2zM732 619h3v1h-3zM733 618h3v1h-3zM735 617h2v1h-2zM736 616h3v1h-3zM737 615h3v1h-3zM739 614h2v1h-2zM740 613h3v1h-3zM741 612h3v1h-3zM743 611h2v1h-2zM744 610h3v1h-3zM745 609h3v1h-3zM747 608h2v1h-2zM748 607h3v1h-3zM749 606h3v1h-3zM751 605h2v1h-2zM752 604h3v1h-3zM753 603h3v1h-3zM755 602h3v1h-3zM756 601h3v1h-3zM758 600h3v1h-3zM759 599h3v1h-3zM761 598h2v1h-2zM762 597h3v1h-3zM763 596h3v1h-3zM765 595h3v1h-3zM766 594h3v1h-3zM768 593h3v1h-3zM769 592h3v1h-3zM771 591h2v1h-2zM772 590h3v1h-3zM773 589h3v1h-3zM775 588h2v1h-2zM776 587h3v1h-3zM777 586h3v1h-3zM779 585h2v1h-2zM780 584h3v1h-3zM781 583h3v1h-3zM783 582h2v1h-2zM784 581h3v1h-3zM785 580h3v1h-3zM787 579h3v1h-3zM788 578h4v1h-4zM790 577h4v1h-4zM792 576h4v1h-4zM794 575h4v1h-4zM796 574h4v1h-4zM798 573h4v1h-4zM800 572h5v1h-5zM802 571h5v1h-5zM805 570h4v1h-4zM807 569h4v1h-4zM809 568h5v1h-5zM811 567h5v1h-5zM814 566h4v1h-4zM816 565h5v1h-5zM818 564h5v1h-5zM821 563h5v1h-5zM823 562h6v1h-6zM826 561h5v1h-5zM829 560h5v1h-5zM831 559h6v1h-6zM834 558h5v1h-5zM837 557h4v1h-4zM839 556h4v1h-4zM841 555h5v1h-5zM843 554h5v1h-5zM846 553h4v1h-4zM848 552h5v1h-5zM850 551h6v1h-6zM853 550h6v1h-6zM856 549h7v1h-7zM859 548h7v1h-7zM863 547h6v1h-6zM866 546h7v1h-7zM869 545h8v1h-8zM873 544h8v1h-8zM877 543h9v1h-9zM881 542h10v1h-10zM886 541h11v1h-11zM891 540h48v1h-48zM897 539h37v1h-37zM934 541h11v1h-11zM939 542h10v1h-10zM945 543h8v1h-8zM949 544h8v1h-8zM953 545h8v1h-8zM957 546h8v1h-8zM961 547h6v1h-6zM965 548h4v1h-4zM967 549h4v1h-4zM969 550h5v1h-5zM971 551h5v1h-5zM974 552h4v1h-4zM976 553h5v1h-5zM978 554h5v1h-5zM981 555h5v1h-5zM983 556h6v1h-6zM986 557h5v1h-5zM989 558h5v1h-5zM991 559h5v1h-5zM994 560h4v1h-4zM996 561h3v1h-3zM998 562h3v1h-3zM999 563h3v1h-3zM1001 564h2v1h-2zM1002 565h3v1h-3zM1003 566h3v1h-3zM1005 567h3v1h-3zM1006 568h3v1h-3zM1008 569h3v1h-3zM1009 570h3v1h-3zM1011 571h3v1h-3zM1012 572h4v1h-4zM1014 573h4v1h-4zM1016 574h4v1h-4zM1018 575h4v1h-4zM1020 576h4v1h-4zM1022 577h4v1h-4zM1024 578h4v1h-4zM1026 579h4v1h-4zM1028 580h3v1h-3zM1030 581h3v1h-3zM1031 582h4v1h-4zM1033 583h3v1h-3zM1035 584h3v1h-3zM1036 585h3v1h-3zM1038 586h3v1h-3zM1039 587h4v1h-4zM1041 588h3v1h-3zM1043 589h3v1h-3zM1044 590h4v1h-4zM1046 591h4v1h-4zM1048 592h3v1h-3zM1050 593h3v1h-3zM1051 594h4v1h-4zM1053 595h4v1h-4zM1055 596h4v1h-4zM1057 597h4v1h-4zM1059 598h4v1h-4zM1061 599h4v1h-4zM1063 600h4v1h-4zM1065 601h5v1h-5zM1067 602h5v1h-5zM1070 603h4v1h-4zM1072 604h5v1h-5zM1074 605h5v1h-5zM1077 606h4v1h-4zM1079 607h4v1h-4zM1081 608h5v1h-5zM1083 609h5v1h-5zM1086 610h4v1h-4zM1088 611h5v1h-5zM1090 612h6v1h-6zM1093 613h6v1h-6zM1096 614h7v1h-7zM1099 615h7v1h-7zM1103 616h6v1h-6zM1106 617h7v1h-7zM1109 618h8v1h-8zM1113 619h8v1h-8zM1117 620h9v1h-9zM1121 621h10v1h-10zM1126 622h11v1h-11zM1131 623h76v1h-76zM1137 624h58v1h-58zM1195 622h20v1h-20zM1207 621h16v1h-16zM1215 620h16v1h-16zM1223 619h20v1h-20zM1231 618h60v1h-60zM1243 617h80v1h-80zM1291 616h132v1h-132zM1323 615h48v1h-48zM1371 617h44v1h-44zM1415 615h36v1h-36zM1423 614h35v1h-35zM1451 613h8v1h-8z"/>
<path fill="#000" d="M2 2h1869v1h-1869zM2 2h1v514h-1zM2 515h1869v1h-1869zM1870 2h1v514h-1zM2 517h1869v1h-1869zM2 517h1v256h-1zM2 772h1869v1h-1869zM1870 517h1v256h-1z"/>
<path fill="#000" d="M1871 17h2v1h-2zM1871 50h2v1h-2zM1871 83h2v1h-2zM1871 116h2v1h-2zM1871 149h2v1h-2zM1871 182h2v1h-2zM1871 215h2v1h-2zM1871 248h2v1h-2zM1871 281h2v1h-2zM1871 314h2v1h-2zM1871 347h2v1h-2zM1871 380h2v1h-2zM1871 413h2v1h-2zM1871 446h2v1h-2zM1871 479h2v1h-2zM1871 512h2v1h-2z"/>
<path fill="#000" d="M1871 519h1v1h-1zM1871 634h1v1h-1zM1871 771h1v1h-1z"/>
<path fill="#000" d="M3 773h1v3h-1zM67 773h1v3h-1zM131 773h1v3h-1zM195 773h1v3h-1zM259 773h1v3h-1zM323 773h1v3h-1zM387 773h1v3h-1zM451 773h1v3h-1zM515 773h1v3h-1zM579 773h1v3h-1zM643 773h1v3h-1zM707 773h1v3h-1zM771 773h1v3h-1zM835 773h1v3h-1zM899 773h1v3h-1zM963 773h1v3h-1zM1027 773h1v3h-1zM1091 773h1v3h-1zM1155 773h1v3h-1zM1219 773h1v3h-1zM1283 773h1v3h-1zM1347 773h1v3h-1zM1411 773h1v3h-1z"/>
</g>
<text x="1875.67" y="21" fill="#000" stroke="#000" textLength="33.05" lengthAdjust="spacingAndGlyphs" xml:space="preserve">1.36490</text>
<text x="1875.67" y="54" fill="#000" stroke="#000" textLength="33.05" lengthAdjust="spacingAndGlyphs" xml:space="preserve">1.36290</text>
<text x="1875.67" y="87" fill="#000" stroke="#000" textLength="33.05" lengthAdjust="spacingAndGlyphs" xml:space="preserve">1.36090</text>
<text x="1875.67" y="120" fill="#000" stroke="#000" textLength="33.05" lengthAdjust="spacingAndGlyphs" xml:space="preserve">1.35890</text>
<text x="1875.67" y="153" fill="#000" stroke="#000" textLength="33.05" lengthAdjust="spacingAndGlyphs" xml:space="preserve">1.35690</text>
<text x="1875.67" y="186" fill="#000" stroke="#000" textLength="33.05" lengthAdjust="spacingAndGlyphs" xml:space="preserve">1.35495</text>
<text x="1875.67" y="219" fill="#000" stroke="#000" textLength="33.05" lengthAdjust="spacingAndGlyphs" xml:space="preserve">1.35295</text>
<text x="1875.67" y="252" fill="#000" stroke="#000" textLength="33.05" lengthAdjust="spacingAndGlyphs" xml:space="preserve">1.35095</text>
<text x="1875.67" y="285" fill="#000" stroke="#000" textLength="33.05" lengthAdjust="spacingAndGlyphs" xml:space="preserve">1.34895</text>
<text x="1875.67" y="318" fill="#000" stroke="#000" textLength="33.05" lengthAdjust="spacingAndGlyphs" xml:space="preserve">1.34700</text>
<text x="1875.67" y="351" fill="#000" stroke="#000" textLength="33.05" lengthAdjust="spacingAndGlyphs" xml:space="preserve">1.34500</text>
<text x="1875.67" y="384" fill="#000" stroke="#000" textLength="33.05" lengthAdjust="spacingAndGlyphs" xml:space="preserve">1.34300</text>
<text x="1875.67" y="417" fill="#000" stroke="#000" textLength="33.05" lengthAdjust="spacingAndGlyphs" xml:space="preserve">1.34100</text>
<text x="1875.67" y="450" fill="#000" stroke="#000" textLength="33.05" lengthAdjust="spacingAndGlyphs" xml:space="preserve">1.33900</text>
<text x="1875.67" y="483" fill="#000" stroke="#000" textLength="33.05" lengthAdjust="spacingAndGlyphs" xml:space="preserve">1.33705</text>
<text x="1875.67" y="516" fill="#000" stroke="#000" textLength="33.05" lengthAdjust="spacingAndGlyphs" xml:space="preserve">1.33505</text>
<rect x="1872" y="22" width="41" height="11" fill="#ff0000" shape-rendering="crispEdges"/>
<text x="1875.67" y="31" fill="#fff" stroke="#fff" textLength="33.05" lengthAdjust="spacingAndGlyphs" xml:space="preserve">1.36420</text>
<rect x="1872" y="89" width="41" height="11" fill="#ff0000" shape-rendering="crispEdges"/>
<text x="1875.67" y="98" fill="#fff" stroke="#fff" textLength="33.05" lengthAdjust="spacingAndGlyphs" xml:space="preserve">1.36017</text>
<rect x="1872" y="160" width="41" height="11" fill="#000000" shape-rendering="crispEdges"/>
<text x="1875.67" y="169" fill="#fff" stroke="#fff" textLength="33.05" lengthAdjust="spacingAndGlyphs" xml:space="preserve">1.35598</text>
<rect x="1872" y="231" width="41" height="11" fill="#ff0000" shape-rendering="crispEdges"/>
<text x="1875.67" y="240" fill="#fff" stroke="#fff" textLength="33.05" lengthAdjust="spacingAndGlyphs" xml:space="preserve">1.35161</text>
<rect x="1872" y="315" width="41" height="11" fill="#ff0000" shape-rendering="crispEdges"/>
<text x="1875.67" y="324" fill="#fff" stroke="#fff" textLength="33.05" lengthAdjust="spacingAndGlyphs" xml:space="preserve">1.34659</text>
<text x="1874.20" y="528" fill="#000" stroke="#000" textLength="37.99" lengthAdjust="spacingAndGlyphs" xml:space="preserve">0.003936</text>
<text x="1874.40" y="638" fill="#000" stroke="#000" textLength="17.82" lengthAdjust="spacingAndGlyphs" xml:space="preserve">0.00</text>
<text x="1874.00" y="769" fill="#000" stroke="#000" textLength="40.64" lengthAdjust="spacingAndGlyphs" xml:space="preserve">-0.004719</text>
<text x="2.00" y="785" fill="#000" stroke="#000" textLength="49.94" lengthAdjust="spacingAndGlyphs" xml:space="preserve">21 Jan 2022</text>
<text x="66.00" y="785" fill="#000" stroke="#000" textLength="52.70" lengthAdjust="spacingAndGlyphs" xml:space="preserve">24 Jan 12:00</text>
<text x="130.00" y="785" fill="#000" stroke="#000" textLength="52.70" lengthAdjust="spacingAndGlyphs" xml:space="preserve">25 Jan 04:00</text>
<text x="194.00" y="785" fill="#000" stroke="#000" textLength="52.70" lengthAdjust="spacingAndGlyphs" xml:space="preserve">25 Jan 20:00</text>
<text x="258.00" y="785" fill="#000" stroke="#000" textLength="52.70" lengthAdjust="spacingAndGlyphs" xml:space="preserve">26 Jan 12:00</text>
<text x="322.00" y="785" fill="#000" stroke="#000" textLength="52.70" lengthAdjust="spacingAndGlyphs" xml:space="preserve">27 Jan 04:00</text>
<text x="386.00" y="785" fill="#000" stroke="#000" textLength="52.70" lengthAdjust="spacingAndGlyphs" xml:space="preserve">27 Jan 20:00</text>
<text x="450.00" y="785" fill="#000" stroke="#000" textLength="52.70" lengthAdjust="spacingAndGlyphs" xml:space="preserve">28 Jan 12:00</text>
<text x="514.00" y="785" fill="#000" stroke="#000" textLength="52.70" lengthAdjust="spacingAndGlyphs" xml:space="preserve">31 Jan 04:00</text>
<text x="578.00" y="785" fill="#000" stroke="#000" textLength="52.70" lengthAdjust="spacingAndGlyphs" xml:space="preserve">31 Jan 20:00</text>
<text x="641.65" y="785" fill="#000" stroke="#000" textLength="49.88" lengthAdjust="spacingAndGlyphs" xml:space="preserve">1 Feb 12:00</text>
<text x="706.00" y="785" fill="#000" stroke="#000" textLength="48.94" lengthAdjust="spacingAndGlyphs" xml:space="preserve">2 Feb 04:00</text>
<text x="770.00" y="785" fill="#000" stroke="#000" textLength="48.94" lengthAdjust="spacingAndGlyphs" xml:space="preserve">2 Feb 20:00</text>
<text x="834.00" y="785" fill="#000" stroke="#000" textLength="48.94" lengthAdjust="spacingAndGlyphs" xml:space="preserve">3 Feb 12:00</text>
<text x="898.00" y="785" fill="#000" stroke="#000" textLength="48.94" lengthAdjust="spacingAndGlyphs" xml:space="preserve">4 Feb 04:00</text>
<text x="962.00" y="785" fill="#000" stroke="#000" textLength="48.94" lengthAdjust="spacingAndGlyphs" xml:space="preserve">4 Feb 20:00</text>
<text x="1026.00" y="785" fill="#000" stroke="#000" textLength="48.94" lengthAdjust="spacingAndGlyphs" xml:space="preserve">7 Feb 12:00</text>
<text x="1090.00" y="785" fill="#000" stroke="#000" textLength="48.94" lengthAdjust="spacingAndGlyphs" xml:space="preserve">8 Feb 04:00</text>
<text x="1154.00" y="785" fill="#000" stroke="#000" textLength="48.94" lengthAdjust="spacingAndGlyphs" xml:space="preserve">8 Feb 20:00</text>
<text x="1218.00" y="785" fill="#000" stroke="#000" textLength="48.94" lengthAdjust="spacingAndGlyphs" xml:space="preserve">9 Feb 12:00</text>
<text x="1281.65" y="785" fill="#000" stroke="#000" textLength="55.34" lengthAdjust="spacingAndGlyphs" xml:space="preserve">10 Feb 04:00</text>
<text x="1345.65" y="785" fill="#000" stroke="#000" textLength="55.34" lengthAdjust="spacingAndGlyphs" xml:space="preserve">10 Feb 20:00</text>
<text x="1409.63" y="785" fill="#000" stroke="#000" textLength="55.62" lengthAdjust="spacingAndGlyphs" xml:space="preserve">11 Feb 12:00</text>
<text x="7.10" y="14" fill="#000" stroke="#000" textLength="201.35" lengthAdjust="spacingAndGlyphs" xml:space="preserve">GBPUSD,H4  1.35496 1.35707 1.35471 1.35598</text>
<text x="6.26" y="530" fill="#000" stroke="#000" textLength="230.55" lengthAdjust="spacingAndGlyphs" xml:space="preserve">MACD(12,26,9) 0.000721 0.000715 0.000009 0.000000</text>
</svg></body></html>
